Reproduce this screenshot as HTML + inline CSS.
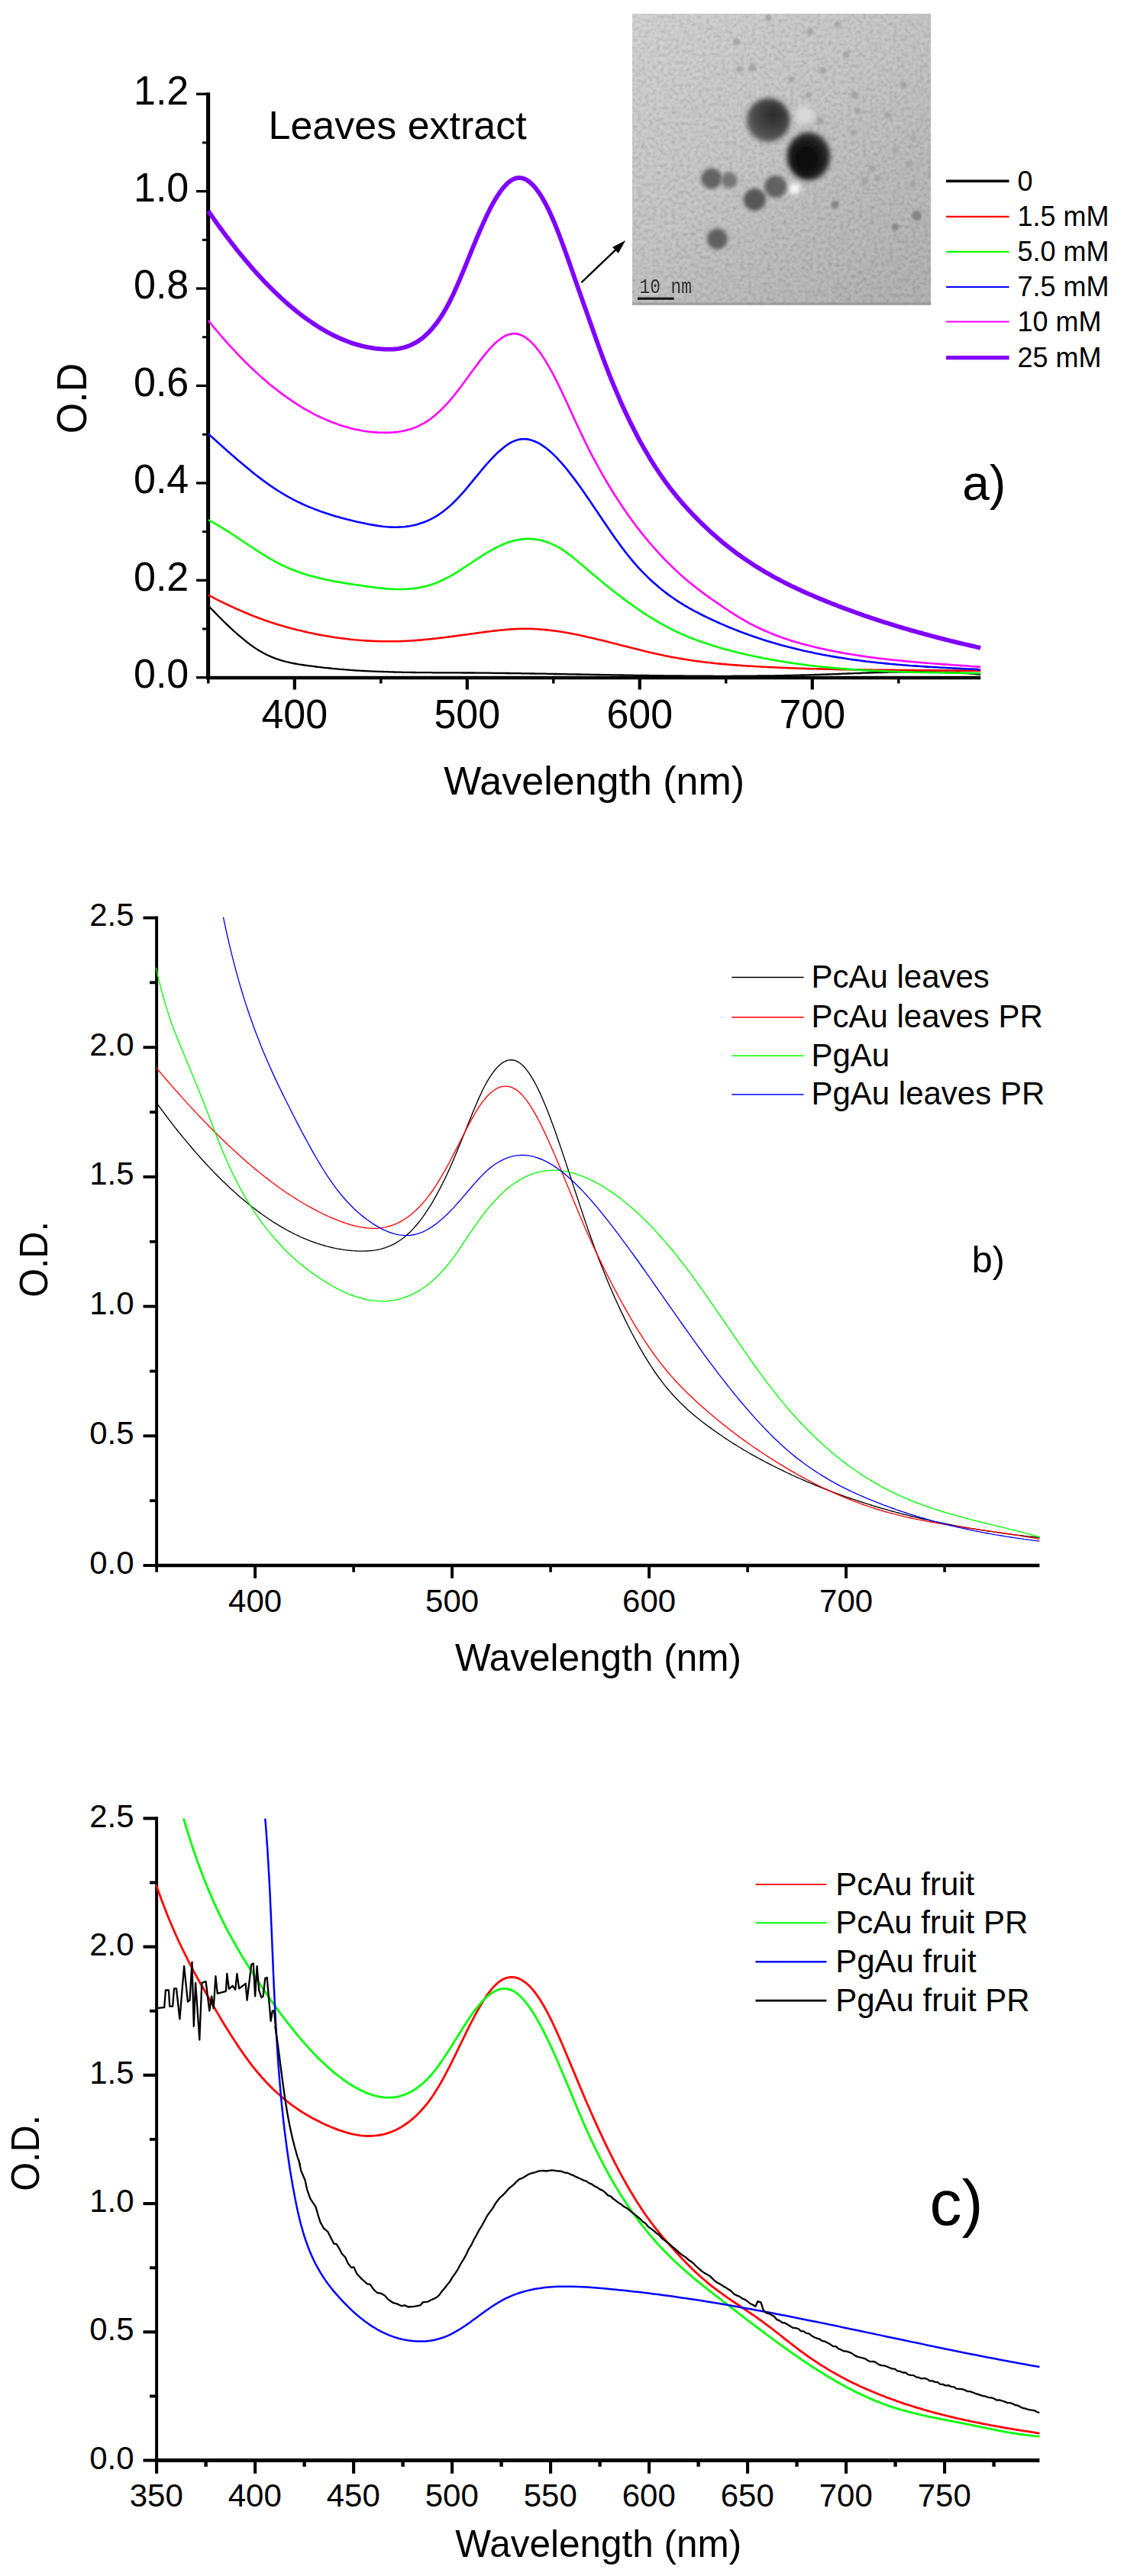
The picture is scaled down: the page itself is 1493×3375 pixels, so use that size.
<!DOCTYPE html>
<html lang="en">
<head>
<meta charset="utf-8">
<title>UV-Vis spectra of gold nanoparticles</title>
<style>
html,body{margin:0;padding:0;background:#fff;}
body{width:1493px;height:3375px;overflow:hidden;}
svg{display:block;position:absolute;left:0;top:0;}
svg text{font-family:"Liberation Sans", Arial, Helvetica, sans-serif;fill:#000;}
</style>
</head>
<body>
<svg width="1493" height="3375" viewBox="0 0 1493 3375">
<line x1="272.6" y1="121.2" x2="272.6" y2="890.2" stroke="#000" stroke-width="5.1"/>
<line x1="270.1" y1="888" x2="1284.2" y2="888" stroke="#000" stroke-width="4.4"/>
<line x1="257" y1="887.7" x2="272.8" y2="887.7" stroke="#000" stroke-width="3.3"/>
<text transform="translate(247.3 901) scale(1 1.04)" font-size="52" text-anchor="end">0.0</text>
<line x1="265" y1="824" x2="272.8" y2="824" stroke="#000" stroke-width="3.0"/>
<line x1="257" y1="760.3" x2="272.8" y2="760.3" stroke="#000" stroke-width="3.3"/>
<text transform="translate(247.3 773.6) scale(1 1.04)" font-size="52" text-anchor="end">0.2</text>
<line x1="265" y1="696.6" x2="272.8" y2="696.6" stroke="#000" stroke-width="3.0"/>
<line x1="257" y1="632.9" x2="272.8" y2="632.9" stroke="#000" stroke-width="3.3"/>
<text transform="translate(247.3 646.2) scale(1 1.04)" font-size="52" text-anchor="end">0.4</text>
<line x1="265" y1="569.2" x2="272.8" y2="569.2" stroke="#000" stroke-width="3.0"/>
<line x1="257" y1="505.4" x2="272.8" y2="505.4" stroke="#000" stroke-width="3.3"/>
<text transform="translate(247.3 518.7) scale(1 1.04)" font-size="52" text-anchor="end">0.6</text>
<line x1="265" y1="441.7" x2="272.8" y2="441.7" stroke="#000" stroke-width="3.0"/>
<line x1="257" y1="378" x2="272.8" y2="378" stroke="#000" stroke-width="3.3"/>
<text transform="translate(247.3 391.3) scale(1 1.04)" font-size="52" text-anchor="end">0.8</text>
<line x1="265" y1="314.3" x2="272.8" y2="314.3" stroke="#000" stroke-width="3.0"/>
<line x1="257" y1="250.6" x2="272.8" y2="250.6" stroke="#000" stroke-width="3.3"/>
<text transform="translate(247.3 263.9) scale(1 1.04)" font-size="52" text-anchor="end">1.0</text>
<line x1="265" y1="186.9" x2="272.8" y2="186.9" stroke="#000" stroke-width="3.0"/>
<line x1="257" y1="123.2" x2="272.8" y2="123.2" stroke="#000" stroke-width="3.3"/>
<text transform="translate(247.3 136.5) scale(1 1.04)" font-size="52" text-anchor="end">1.2</text>
<line x1="272.8" y1="888" x2="272.8" y2="895.5" stroke="#000" stroke-width="3.4"/>
<line x1="385.8" y1="888" x2="385.8" y2="903.5" stroke="#000" stroke-width="4.2"/>
<text transform="translate(385.8 954.4) scale(1 1.045)" font-size="52" text-anchor="middle">400</text>
<line x1="498.8" y1="888" x2="498.8" y2="895.5" stroke="#000" stroke-width="3.4"/>
<line x1="611.8" y1="888" x2="611.8" y2="903.5" stroke="#000" stroke-width="4.2"/>
<text transform="translate(611.8 954.4) scale(1 1.045)" font-size="52" text-anchor="middle">500</text>
<line x1="724.8" y1="888" x2="724.8" y2="895.5" stroke="#000" stroke-width="3.4"/>
<line x1="837.8" y1="888" x2="837.8" y2="903.5" stroke="#000" stroke-width="4.2"/>
<text transform="translate(837.8 954.4) scale(1 1.045)" font-size="52" text-anchor="middle">600</text>
<line x1="950.8" y1="888" x2="950.8" y2="895.5" stroke="#000" stroke-width="3.4"/>
<line x1="1063.8" y1="888" x2="1063.8" y2="903.5" stroke="#000" stroke-width="4.2"/>
<text transform="translate(1063.8 954.4) scale(1 1.045)" font-size="52" text-anchor="middle">700</text>
<line x1="1176.8" y1="888" x2="1176.8" y2="895.5" stroke="#000" stroke-width="3.4"/>
<path d="M272.8 793.6 L275.8 796.7 L278.8 799.8 L281.8 802.9 L284.8 806 L287.8 809 L290.8 812 L293.8 815 L296.8 817.9 L299.8 820.7 L302.8 823.5 L305.8 826.3 L308.8 829 L311.8 831.6 L314.8 834.2 L317.8 836.7 L320.8 839.2 L323.8 841.5 L326.8 843.8 L329.8 846 L332.8 848.1 L335.8 850.1 L338.8 852 L341.8 853.8 L344.8 855.5 L347.8 857.1 L350.8 858.5 L353.8 859.9 L356.8 861.2 L359.8 862.3 L362.8 863.4 L365.8 864.4 L368.8 865.3 L371.8 866.2 L374.8 867 L377.8 867.7 L380.8 868.4 L383.8 869 L386.8 869.5 L389.8 870.1 L392.8 870.6 L395.8 871 L398.8 871.5 L401.9 871.9 L404.9 872.3 L407.9 872.7 L410.9 873.1 L413.9 873.5 L416.9 873.9 L419.9 874.2 L422.9 874.6 L425.9 874.9 L428.9 875.2 L431.9 875.5 L434.9 875.8 L437.9 876.1 L440.9 876.4 L443.9 876.7 L446.9 876.9 L449.9 877.2 L452.9 877.4 L455.9 877.6 L458.9 877.9 L461.9 878.1 L464.9 878.3 L467.9 878.5 L470.9 878.6 L473.9 878.8 L476.9 879 L479.9 879.1 L482.9 879.3 L485.9 879.4 L488.9 879.6 L491.9 879.7 L494.9 879.8 L497.9 879.9 L500.9 880 L503.9 880.1 L506.9 880.2 L509.9 880.3 L512.9 880.4 L515.9 880.5 L518.9 880.6 L521.9 880.6 L524.9 880.7 L527.9 880.8 L530.9 880.8 L533.9 880.9 L536.9 880.9 L539.9 881 L542.9 881 L545.9 881.1 L548.9 881.1 L551.9 881.1 L554.9 881.2 L557.9 881.2 L560.9 881.2 L563.9 881.2 L566.9 881.3 L569.9 881.3 L572.9 881.3 L575.9 881.3 L578.9 881.3 L581.9 881.3 L584.9 881.4 L587.9 881.4 L590.9 881.4 L593.9 881.4 L596.9 881.4 L599.9 881.4 L602.9 881.4 L605.9 881.5 L608.9 881.5 L611.9 881.5 L614.9 881.5 L617.9 881.5 L620.9 881.5 L623.9 881.6 L626.9 881.6 L629.9 881.6 L632.9 881.7 L635.9 881.7 L638.9 881.7 L641.9 881.7 L644.9 881.8 L647.9 881.8 L650.9 881.8 L654 881.9 L657 881.9 L660 881.9 L663 882 L666 882 L669 882.1 L672 882.1 L675 882.1 L678 882.2 L681 882.2 L684 882.3 L687 882.3 L690 882.4 L693 882.4 L696 882.5 L699 882.5 L702 882.6 L705 882.6 L708 882.6 L711 882.7 L714 882.7 L717 882.8 L720 882.8 L723 882.9 L726 883 L729 883 L732 883.1 L735 883.1 L738 883.2 L741 883.2 L744 883.3 L747 883.3 L750 883.4 L753 883.4 L756 883.5 L759 883.5 L762 883.6 L765 883.6 L768 883.7 L771 883.7 L774 883.8 L777 883.9 L780 883.9 L783 884 L786 884 L789 884.1 L792 884.1 L795 884.2 L798 884.2 L801 884.3 L804 884.3 L807 884.4 L810 884.4 L813 884.5 L816 884.5 L819 884.6 L822 884.6 L825 884.7 L828 884.7 L831 884.8 L834 884.8 L837 884.8 L840 884.9 L843 884.9 L846 885 L849 885 L852 885.1 L855 885.1 L858 885.1 L861 885.2 L864 885.2 L867 885.2 L870 885.3 L873 885.3 L876 885.4 L879 885.4 L882 885.4 L885 885.4 L888 885.5 L891 885.5 L894 885.5 L897 885.6 L900 885.6 L903 885.6 L906.1 885.6 L909.1 885.6 L912.1 885.7 L915.1 885.7 L918.1 885.7 L921.1 885.7 L924.1 885.7 L927.1 885.7 L930.1 885.7 L933.1 885.7 L936.1 885.8 L939.1 885.8 L942.1 885.8 L945.1 885.8 L948.1 885.8 L951.1 885.8 L954.1 885.8 L957.1 885.8 L960.1 885.7 L963.1 885.7 L966.1 885.7 L969.1 885.7 L972.1 885.7 L975.1 885.7 L978.1 885.7 L981.1 885.6 L984.1 885.6 L987.1 885.6 L990.1 885.6 L993.1 885.5 L996.1 885.5 L999.1 885.5 L1002.1 885.4 L1005.1 885.4 L1008.1 885.4 L1011.1 885.3 L1014.1 885.3 L1017.1 885.2 L1020.1 885.2 L1023.1 885.1 L1026.1 885.1 L1029.1 885 L1032.1 884.9 L1035.1 884.9 L1038.1 884.8 L1041.1 884.7 L1044.1 884.7 L1047.1 884.6 L1050.1 884.5 L1053.1 884.5 L1056.1 884.4 L1059.1 884.3 L1062.1 884.2 L1065.1 884.1 L1068.1 884 L1071.1 883.9 L1074.1 883.8 L1077.1 883.7 L1080.1 883.6 L1083.1 883.5 L1086.1 883.4 L1089.1 883.3 L1092.1 883.2 L1095.1 883.1 L1098.1 883 L1101.1 882.9 L1104.1 882.7 L1107.1 882.6 L1110.1 882.5 L1113.1 882.4 L1116.1 882.3 L1119.1 882.2 L1122.1 882.1 L1125.1 882 L1128.1 881.8 L1131.1 881.7 L1134.1 881.6 L1137.1 881.5 L1140.1 881.4 L1143.1 881.3 L1146.1 881.2 L1149.1 881.1 L1152.1 881 L1155.1 881 L1158.2 880.9 L1161.2 880.8 L1164.2 880.7 L1167.2 880.7 L1170.2 880.6 L1173.2 880.5 L1176.2 880.5 L1179.2 880.4 L1182.2 880.4 L1185.2 880.3 L1188.2 880.3 L1191.2 880.3 L1194.2 880.2 L1197.2 880.2 L1200.2 880.2 L1203.2 880.2 L1206.2 880.2 L1209.2 880.2 L1212.2 880.3 L1215.2 880.3 L1218.2 880.3 L1221.2 880.4 L1224.2 880.4 L1227.2 880.5 L1230.2 880.6 L1233.2 880.6 L1236.2 880.7 L1239.2 880.8 L1242.2 881 L1245.2 881.1 L1248.2 881.2 L1251.2 881.3 L1254.2 881.5 L1257.2 881.7 L1260.2 881.8 L1263.2 882 L1266.2 882.2 L1269.2 882.4 L1272.2 882.7 L1275.2 882.9 L1278.2 883.2 L1281.2 883.4 L1284.2 883.7" fill="none" stroke="#000000" stroke-width="2.3" stroke-linejoin="round" />
<path d="M272.8 779.6 L275.8 781.2 L278.8 782.7 L281.8 784.3 L284.8 785.8 L287.8 787.3 L290.8 788.8 L293.8 790.3 L296.8 791.7 L299.8 793.1 L302.8 794.5 L305.8 795.9 L308.8 797.3 L311.8 798.6 L314.8 799.9 L317.8 801.2 L320.8 802.5 L323.8 803.8 L326.8 805 L329.8 806.2 L332.8 807.4 L335.8 808.5 L338.8 809.7 L341.8 810.8 L344.8 811.9 L347.8 812.9 L350.8 813.9 L353.8 815 L356.8 815.9 L359.8 816.9 L362.8 817.9 L365.8 818.8 L368.8 819.7 L371.8 820.6 L374.8 821.4 L377.8 822.2 L380.8 823.1 L383.8 823.9 L386.8 824.6 L389.8 825.4 L392.8 826.1 L395.8 826.8 L398.8 827.5 L401.9 828.2 L404.9 828.9 L407.9 829.5 L410.9 830.2 L413.9 830.8 L416.9 831.4 L419.9 831.9 L422.9 832.5 L425.9 833 L428.9 833.5 L431.9 834 L434.9 834.5 L437.9 835 L440.9 835.4 L443.9 835.8 L446.9 836.2 L449.9 836.6 L452.9 837 L455.9 837.3 L458.9 837.7 L461.9 838 L464.9 838.3 L467.9 838.5 L470.9 838.8 L473.9 839 L476.9 839.2 L479.9 839.4 L482.9 839.6 L485.9 839.8 L488.9 839.9 L491.9 840 L494.9 840.1 L497.9 840.2 L500.9 840.3 L503.9 840.3 L506.9 840.3 L509.9 840.3 L512.9 840.3 L515.9 840.3 L518.9 840.2 L521.9 840.2 L524.9 840.1 L527.9 840 L530.9 839.8 L533.9 839.7 L536.9 839.5 L539.9 839.3 L542.9 839.1 L545.9 838.9 L548.9 838.6 L551.9 838.4 L554.9 838.1 L557.9 837.8 L560.9 837.6 L563.9 837.2 L566.9 836.9 L569.9 836.6 L572.9 836.3 L575.9 835.9 L578.9 835.5 L581.9 835.2 L584.9 834.8 L587.9 834.4 L590.9 834 L593.9 833.6 L596.9 833.2 L599.9 832.8 L602.9 832.4 L605.9 832 L608.9 831.6 L611.9 831.2 L614.9 830.8 L617.9 830.4 L620.9 830 L623.9 829.5 L626.9 829.1 L629.9 828.7 L632.9 828.3 L635.9 827.9 L638.9 827.5 L641.9 827.2 L644.9 826.8 L647.9 826.4 L650.9 826.1 L654 825.8 L657 825.5 L660 825.2 L663 824.9 L666 824.7 L669 824.4 L672 824.2 L675 824.1 L678 824 L681 823.8 L684 823.8 L687 823.8 L690 823.8 L693 823.8 L696 823.9 L699 824 L702 824.2 L705 824.3 L708 824.6 L711 824.8 L714 825.1 L717 825.4 L720 825.7 L723 826.1 L726 826.5 L729 826.9 L732 827.3 L735 827.8 L738 828.3 L741 828.8 L744 829.3 L747 829.9 L750 830.4 L753 831 L756 831.6 L759 832.2 L762 832.9 L765 833.5 L768 834.2 L771 834.9 L774 835.5 L777 836.2 L780 836.9 L783 837.7 L786 838.4 L789 839.1 L792 839.9 L795 840.6 L798 841.4 L801 842.1 L804 842.9 L807 843.6 L810 844.4 L813 845.2 L816 845.9 L819 846.7 L822 847.5 L825 848.2 L828 849 L831 849.8 L834 850.5 L837 851.3 L840 852 L843 852.7 L846 853.5 L849 854.2 L852 854.9 L855 855.6 L858 856.3 L861 856.9 L864 857.6 L867 858.2 L870 858.9 L873 859.5 L876 860.1 L879 860.7 L882 861.2 L885 861.8 L888 862.3 L891 862.9 L894 863.4 L897 863.8 L900 864.3 L903 864.8 L906.1 865.2 L909.1 865.7 L912.1 866.1 L915.1 866.5 L918.1 866.9 L921.1 867.3 L924.1 867.6 L927.1 868 L930.1 868.3 L933.1 868.6 L936.1 869 L939.1 869.3 L942.1 869.6 L945.1 869.9 L948.1 870.1 L951.1 870.4 L954.1 870.7 L957.1 870.9 L960.1 871.2 L963.1 871.4 L966.1 871.6 L969.1 871.8 L972.1 872.1 L975.1 872.3 L978.1 872.5 L981.1 872.6 L984.1 872.8 L987.1 873 L990.1 873.2 L993.1 873.3 L996.1 873.5 L999.1 873.7 L1002.1 873.8 L1005.1 874 L1008.1 874.1 L1011.1 874.3 L1014.1 874.4 L1017.1 874.5 L1020.1 874.7 L1023.1 874.8 L1026.1 874.9 L1029.1 875 L1032.1 875.1 L1035.1 875.3 L1038.1 875.4 L1041.1 875.5 L1044.1 875.6 L1047.1 875.7 L1050.1 875.8 L1053.1 875.9 L1056.1 876 L1059.1 876.1 L1062.1 876.2 L1065.1 876.2 L1068.1 876.3 L1071.1 876.4 L1074.1 876.5 L1077.1 876.5 L1080.1 876.6 L1083.1 876.7 L1086.1 876.8 L1089.1 876.8 L1092.1 876.9 L1095.1 876.9 L1098.1 877 L1101.1 877.1 L1104.1 877.1 L1107.1 877.2 L1110.1 877.2 L1113.1 877.3 L1116.1 877.3 L1119.1 877.4 L1122.1 877.4 L1125.1 877.4 L1128.1 877.5 L1131.1 877.5 L1134.1 877.6 L1137.1 877.6 L1140.1 877.6 L1143.1 877.7 L1146.1 877.7 L1149.1 877.7 L1152.1 877.8 L1155.1 877.8 L1158.2 877.8 L1161.2 877.9 L1164.2 877.9 L1167.2 877.9 L1170.2 877.9 L1173.2 878 L1176.2 878 L1179.2 878 L1182.2 878 L1185.2 878 L1188.2 878.1 L1191.2 878.1 L1194.2 878.1 L1197.2 878.1 L1200.2 878.2 L1203.2 878.2 L1206.2 878.2 L1209.2 878.2 L1212.2 878.2 L1215.2 878.3 L1218.2 878.3 L1221.2 878.3 L1224.2 878.3 L1227.2 878.3 L1230.2 878.4 L1233.2 878.4 L1236.2 878.4 L1239.2 878.4 L1242.2 878.5 L1245.2 878.5 L1248.2 878.5 L1251.2 878.5 L1254.2 878.6 L1257.2 878.6 L1260.2 878.6 L1263.2 878.6 L1266.2 878.7 L1269.2 878.7 L1272.2 878.7 L1275.2 878.8 L1278.2 878.8 L1281.2 878.8 L1284.2 878.9" fill="none" stroke="#ff0000" stroke-width="2.6" stroke-linejoin="round" />
<path d="M272.8 681.2 L275.8 682.8 L278.8 684.4 L281.8 686.1 L284.8 687.8 L287.8 689.6 L290.8 691.4 L293.8 693.3 L296.8 695.2 L299.8 697.1 L302.8 699 L305.8 701 L308.8 703 L311.8 705 L314.8 707 L317.8 709 L320.8 711 L323.8 713 L326.8 715 L329.8 717 L332.8 718.9 L335.8 720.9 L338.8 722.8 L341.8 724.7 L344.8 726.6 L347.8 728.5 L350.8 730.3 L353.8 732 L356.8 733.7 L359.8 735.4 L362.8 737 L365.8 738.6 L368.8 740.1 L371.8 741.5 L374.8 742.9 L377.8 744.2 L380.8 745.5 L383.8 746.7 L386.8 747.8 L389.8 749 L392.8 750 L395.8 751 L398.8 752 L401.9 753 L404.9 753.9 L407.9 754.7 L410.9 755.5 L413.9 756.3 L416.9 757.1 L419.9 757.8 L422.9 758.5 L425.9 759.2 L428.9 759.8 L431.9 760.4 L434.9 761 L437.9 761.6 L440.9 762.1 L443.9 762.6 L446.9 763.2 L449.9 763.7 L452.9 764.1 L455.9 764.6 L458.9 765.1 L461.9 765.5 L464.9 766 L467.9 766.4 L470.9 766.9 L473.9 767.3 L476.9 767.8 L479.9 768.2 L482.9 768.6 L485.9 769 L488.9 769.4 L491.9 769.8 L494.9 770.2 L497.9 770.5 L500.9 770.8 L503.9 771.1 L506.9 771.4 L509.9 771.6 L512.9 771.7 L515.9 771.9 L518.9 772 L521.9 772 L524.9 772 L527.9 772 L530.9 771.8 L533.9 771.7 L536.9 771.4 L539.9 771.2 L542.9 770.8 L545.9 770.4 L548.9 769.9 L551.9 769.3 L554.9 768.7 L557.9 767.9 L560.9 767.1 L563.9 766.2 L566.9 765.3 L569.9 764.2 L572.9 763 L575.9 761.8 L578.9 760.4 L581.9 758.9 L584.9 757.4 L587.9 755.8 L590.9 754.1 L593.9 752.4 L596.9 750.6 L599.9 748.7 L602.9 746.8 L605.9 744.9 L608.9 742.9 L611.9 741 L614.9 739 L617.9 737 L620.9 735 L623.9 733 L626.9 731.1 L629.9 729.1 L632.9 727.2 L635.9 725.4 L638.9 723.5 L641.9 721.8 L644.9 720.1 L647.9 718.4 L650.9 716.9 L654 715.4 L657 714 L660 712.7 L663 711.5 L666 710.4 L669 709.4 L672 708.6 L675 707.9 L678 707.3 L681 706.8 L684 706.4 L687 706.1 L690 706 L693 706 L696 706.1 L699 706.4 L702 706.7 L705 707.2 L708 707.8 L711 708.6 L714 709.5 L717 710.5 L720 711.6 L723 712.9 L726 714.3 L729 715.8 L732 717.4 L735 719.2 L738 721.2 L741 723.2 L744 725.4 L747 727.6 L750 730 L753 732.4 L756 734.9 L759 737.4 L762 739.9 L765 742.5 L768 745.1 L771 747.7 L774 750.2 L777 752.8 L780 755.3 L783 757.8 L786 760.3 L789 762.8 L792 765.2 L795 767.7 L798 770.1 L801 772.5 L804 774.8 L807 777.2 L810 779.5 L813 781.8 L816 784.1 L819 786.3 L822 788.5 L825 790.7 L828 792.8 L831 794.9 L834 797 L837 799.1 L840 801.1 L843 803.1 L846 805.1 L849 807 L852 808.9 L855 810.7 L858 812.6 L861 814.3 L864 816.1 L867 817.8 L870 819.4 L873 821.1 L876 822.6 L879 824.2 L882 825.7 L885 827.1 L888 828.5 L891 829.9 L894 831.3 L897 832.6 L900 833.8 L903 835.1 L906.1 836.3 L909.1 837.4 L912.1 838.6 L915.1 839.7 L918.1 840.8 L921.1 841.8 L924.1 842.8 L927.1 843.8 L930.1 844.8 L933.1 845.8 L936.1 846.7 L939.1 847.6 L942.1 848.5 L945.1 849.3 L948.1 850.2 L951.1 851 L954.1 851.8 L957.1 852.6 L960.1 853.4 L963.1 854.1 L966.1 854.9 L969.1 855.6 L972.1 856.3 L975.1 857 L978.1 857.7 L981.1 858.4 L984.1 859 L987.1 859.7 L990.1 860.3 L993.1 860.9 L996.1 861.6 L999.1 862.2 L1002.1 862.7 L1005.1 863.3 L1008.1 863.9 L1011.1 864.4 L1014.1 865 L1017.1 865.5 L1020.1 866 L1023.1 866.5 L1026.1 867 L1029.1 867.5 L1032.1 867.9 L1035.1 868.4 L1038.1 868.8 L1041.1 869.3 L1044.1 869.7 L1047.1 870.1 L1050.1 870.5 L1053.1 870.9 L1056.1 871.3 L1059.1 871.7 L1062.1 872 L1065.1 872.4 L1068.1 872.7 L1071.1 873.1 L1074.1 873.4 L1077.1 873.7 L1080.1 874 L1083.1 874.3 L1086.1 874.6 L1089.1 874.9 L1092.1 875.2 L1095.1 875.4 L1098.1 875.7 L1101.1 875.9 L1104.1 876.2 L1107.1 876.4 L1110.1 876.7 L1113.1 876.9 L1116.1 877.1 L1119.1 877.3 L1122.1 877.5 L1125.1 877.7 L1128.1 877.9 L1131.1 878.1 L1134.1 878.2 L1137.1 878.4 L1140.1 878.6 L1143.1 878.7 L1146.1 878.9 L1149.1 879 L1152.1 879.2 L1155.1 879.3 L1158.2 879.4 L1161.2 879.5 L1164.2 879.7 L1167.2 879.8 L1170.2 879.9 L1173.2 880 L1176.2 880.1 L1179.2 880.2 L1182.2 880.3 L1185.2 880.4 L1188.2 880.5 L1191.2 880.5 L1194.2 880.6 L1197.2 880.7 L1200.2 880.8 L1203.2 880.8 L1206.2 880.9 L1209.2 881 L1212.2 881 L1215.2 881.1 L1218.2 881.1 L1221.2 881.2 L1224.2 881.3 L1227.2 881.3 L1230.2 881.4 L1233.2 881.4 L1236.2 881.4 L1239.2 881.5 L1242.2 881.5 L1245.2 881.6 L1248.2 881.6 L1251.2 881.7 L1254.2 881.7 L1257.2 881.7 L1260.2 881.8 L1263.2 881.8 L1266.2 881.8 L1269.2 881.9 L1272.2 881.9 L1275.2 882 L1278.2 882 L1281.2 882 L1284.2 882.1" fill="none" stroke="#00ff00" stroke-width="2.6" stroke-linejoin="round" />
<path d="M272.8 568.4 L275.8 571.1 L278.8 573.8 L281.8 576.5 L284.8 579.2 L287.8 581.9 L290.8 584.5 L293.8 587.2 L296.8 589.9 L299.8 592.5 L302.8 595.2 L305.8 597.8 L308.8 600.4 L311.8 603 L314.8 605.6 L317.8 608.1 L320.8 610.6 L323.8 613.1 L326.8 615.6 L329.8 618 L332.8 620.4 L335.8 622.8 L338.8 625.1 L341.8 627.4 L344.8 629.6 L347.8 631.8 L350.8 634 L353.8 636.1 L356.8 638.1 L359.8 640.2 L362.8 642.1 L365.8 644 L368.8 645.9 L371.8 647.7 L374.8 649.4 L377.8 651.1 L380.8 652.7 L383.8 654.3 L386.8 655.9 L389.8 657.4 L392.8 658.8 L395.8 660.2 L398.8 661.6 L401.9 662.9 L404.9 664.2 L407.9 665.4 L410.9 666.6 L413.9 667.8 L416.9 668.9 L419.9 670 L422.9 671.1 L425.9 672.1 L428.9 673.1 L431.9 674.1 L434.9 675 L437.9 675.9 L440.9 676.8 L443.9 677.6 L446.9 678.5 L449.9 679.3 L452.9 680 L455.9 680.8 L458.9 681.5 L461.9 682.3 L464.9 683 L467.9 683.7 L470.9 684.3 L473.9 685 L476.9 685.6 L479.9 686.3 L482.9 686.8 L485.9 687.4 L488.9 687.9 L491.9 688.4 L494.9 688.9 L497.9 689.3 L500.9 689.7 L503.9 690 L506.9 690.3 L509.9 690.5 L512.9 690.6 L515.9 690.7 L518.9 690.7 L521.9 690.6 L524.9 690.5 L527.9 690.3 L530.9 690 L533.9 689.6 L536.9 689.2 L539.9 688.6 L542.9 687.9 L545.9 687.2 L548.9 686.3 L551.9 685.3 L554.9 684.3 L557.9 683.1 L560.9 681.8 L563.9 680.3 L566.9 678.8 L569.9 677.1 L572.9 675.3 L575.9 673.3 L578.9 671.2 L581.9 669 L584.9 666.6 L587.9 664.1 L590.9 661.4 L593.9 658.5 L596.9 655.5 L599.9 652.4 L602.9 649.1 L605.9 645.8 L608.9 642.3 L611.9 638.8 L614.9 635.2 L617.9 631.6 L620.9 627.9 L623.9 624.3 L626.9 620.6 L629.9 617 L632.9 613.4 L635.9 609.9 L638.9 606.5 L641.9 603.1 L644.9 599.9 L647.9 596.8 L650.9 593.8 L654 591 L657 588.4 L660 585.9 L663 583.7 L666 581.7 L669 579.9 L672 578.4 L675 577.2 L678 576.2 L681 575.6 L684 575.3 L687 575.2 L690 575.4 L693 575.9 L696 576.7 L699 577.7 L702 579 L705 580.4 L708 582.2 L711 584.1 L714 586.2 L717 588.5 L720 591.1 L723 593.8 L726 596.6 L729 599.6 L732 602.8 L735 606.1 L738 609.6 L741 613.2 L744 616.9 L747 620.7 L750 624.6 L753 628.6 L756 632.7 L759 636.8 L762 641.1 L765 645.3 L768 649.7 L771 654.1 L774 658.5 L777 662.9 L780 667.4 L783 671.8 L786 676.3 L789 680.8 L792 685.2 L795 689.6 L798 694 L801 698.4 L804 702.7 L807 706.9 L810 711.1 L813 715.2 L816 719.2 L819 723.2 L822 727 L825 730.7 L828 734.4 L831 737.9 L834 741.3 L837 744.6 L840 747.8 L843 750.9 L846 753.9 L849 756.9 L852 759.7 L855 762.5 L858 765.1 L861 767.7 L864 770.3 L867 772.7 L870 775.1 L873 777.4 L876 779.6 L879 781.7 L882 783.8 L885 785.9 L888 787.8 L891 789.8 L894 791.6 L897 793.5 L900 795.2 L903 797 L906.1 798.6 L909.1 800.3 L912.1 801.9 L915.1 803.4 L918.1 805 L921.1 806.5 L924.1 808 L927.1 809.4 L930.1 810.8 L933.1 812.2 L936.1 813.6 L939.1 815 L942.1 816.3 L945.1 817.6 L948.1 818.9 L951.1 820.2 L954.1 821.5 L957.1 822.7 L960.1 823.9 L963.1 825.1 L966.1 826.3 L969.1 827.5 L972.1 828.6 L975.1 829.7 L978.1 830.8 L981.1 831.9 L984.1 833 L987.1 834 L990.1 835 L993.1 836 L996.1 837 L999.1 838 L1002.1 838.9 L1005.1 839.9 L1008.1 840.8 L1011.1 841.7 L1014.1 842.6 L1017.1 843.5 L1020.1 844.3 L1023.1 845.2 L1026.1 846 L1029.1 846.8 L1032.1 847.6 L1035.1 848.3 L1038.1 849.1 L1041.1 849.8 L1044.1 850.6 L1047.1 851.3 L1050.1 852 L1053.1 852.7 L1056.1 853.3 L1059.1 854 L1062.1 854.6 L1065.1 855.3 L1068.1 855.9 L1071.1 856.5 L1074.1 857.1 L1077.1 857.7 L1080.1 858.2 L1083.1 858.8 L1086.1 859.3 L1089.1 859.9 L1092.1 860.4 L1095.1 860.9 L1098.1 861.4 L1101.1 861.8 L1104.1 862.3 L1107.1 862.8 L1110.1 863.2 L1113.1 863.7 L1116.1 864.1 L1119.1 864.5 L1122.1 864.9 L1125.1 865.3 L1128.1 865.7 L1131.1 866.1 L1134.1 866.5 L1137.1 866.8 L1140.1 867.2 L1143.1 867.5 L1146.1 867.8 L1149.1 868.2 L1152.1 868.5 L1155.1 868.8 L1158.2 869.1 L1161.2 869.4 L1164.2 869.7 L1167.2 870 L1170.2 870.2 L1173.2 870.5 L1176.2 870.8 L1179.2 871 L1182.2 871.3 L1185.2 871.5 L1188.2 871.7 L1191.2 872 L1194.2 872.2 L1197.2 872.4 L1200.2 872.6 L1203.2 872.8 L1206.2 873 L1209.2 873.2 L1212.2 873.4 L1215.2 873.6 L1218.2 873.8 L1221.2 874 L1224.2 874.1 L1227.2 874.3 L1230.2 874.5 L1233.2 874.7 L1236.2 874.8 L1239.2 875 L1242.2 875.1 L1245.2 875.3 L1248.2 875.5 L1251.2 875.6 L1254.2 875.8 L1257.2 875.9 L1260.2 876.1 L1263.2 876.2 L1266.2 876.4 L1269.2 876.5 L1272.2 876.6 L1275.2 876.8 L1278.2 876.9 L1281.2 877.1 L1284.2 877.2" fill="none" stroke="#0000ff" stroke-width="2.6" stroke-linejoin="round" />
<path d="M272.8 419.9 L275.8 423.6 L278.8 427.3 L281.8 430.9 L284.8 434.5 L287.8 438 L290.8 441.5 L293.8 444.9 L296.8 448.3 L299.8 451.6 L302.8 454.9 L305.8 458.2 L308.8 461.4 L311.8 464.6 L314.8 467.7 L317.8 470.7 L320.8 473.8 L323.8 476.7 L326.8 479.7 L329.8 482.5 L332.8 485.4 L335.8 488.1 L338.8 490.9 L341.8 493.6 L344.8 496.2 L347.8 498.8 L350.8 501.4 L353.8 503.9 L356.8 506.3 L359.8 508.7 L362.8 511.1 L365.8 513.4 L368.8 515.6 L371.8 517.9 L374.8 520 L377.8 522.1 L380.8 524.2 L383.8 526.2 L386.8 528.2 L389.8 530.1 L392.8 532 L395.8 533.8 L398.8 535.6 L401.9 537.4 L404.9 539 L407.9 540.7 L410.9 542.3 L413.9 543.8 L416.9 545.3 L419.9 546.7 L422.9 548.1 L425.9 549.4 L428.9 550.7 L431.9 552 L434.9 553.2 L437.9 554.3 L440.9 555.4 L443.9 556.5 L446.9 557.5 L449.9 558.4 L452.9 559.3 L455.9 560.1 L458.9 560.9 L461.9 561.7 L464.9 562.4 L467.9 563 L470.9 563.6 L473.9 564.2 L476.9 564.7 L479.9 565.1 L482.9 565.5 L485.9 565.9 L488.9 566.2 L491.9 566.4 L494.9 566.6 L497.9 566.7 L500.9 566.8 L503.9 566.9 L506.9 566.9 L509.9 566.8 L512.9 566.6 L515.9 566.4 L518.9 566.1 L521.9 565.8 L524.9 565.3 L527.9 564.8 L530.9 564.1 L533.9 563.3 L536.9 562.5 L539.9 561.5 L542.9 560.4 L545.9 559.1 L548.9 557.8 L551.9 556.2 L554.9 554.6 L557.9 552.8 L560.9 550.8 L563.9 548.7 L566.9 546.4 L569.9 543.9 L572.9 541.3 L575.9 538.6 L578.9 535.7 L581.9 532.7 L584.9 529.5 L587.9 526.1 L590.9 522.6 L593.9 519 L596.9 515.3 L599.9 511.4 L602.9 507.5 L605.9 503.5 L608.9 499.4 L611.9 495.3 L614.9 491.2 L617.9 487.1 L620.9 483 L623.9 478.9 L626.9 474.9 L629.9 470.9 L632.9 467.1 L635.9 463.4 L638.9 459.8 L641.9 456.4 L644.9 453.2 L647.9 450.3 L650.9 447.5 L654 445.1 L657 442.9 L660 441 L663 439.5 L666 438.3 L669 437.5 L672 437.1 L675 437.1 L678 437.6 L681 438.5 L684 439.7 L687 441.4 L690 443.4 L693 445.8 L696 448.6 L699 451.7 L702 455.2 L705 459 L708 463 L711 467.4 L714 472.1 L717 477.1 L720 482.3 L723 487.7 L726 493.4 L729 499.4 L732 505.5 L735 511.7 L738 518 L741 524.5 L744 531 L747 537.6 L750 544.1 L753 550.7 L756 557.1 L759 563.5 L762 569.9 L765 576.1 L768 582.2 L771 588.2 L774 594.1 L777 599.8 L780 605.4 L783 611 L786 616.4 L789 621.7 L792 626.9 L795 632 L798 637 L801 641.9 L804 646.7 L807 651.5 L810 656.1 L813 660.7 L816 665.2 L819 669.5 L822 673.9 L825 678.1 L828 682.2 L831 686.3 L834 690.2 L837 694.1 L840 698 L843 701.7 L846 705.4 L849 709 L852 712.5 L855 716 L858 719.4 L861 722.7 L864 726 L867 729.2 L870 732.3 L873 735.4 L876 738.4 L879 741.4 L882 744.3 L885 747.1 L888 749.9 L891 752.6 L894 755.3 L897 757.9 L900 760.5 L903 763 L906.1 765.4 L909.1 767.9 L912.1 770.2 L915.1 772.6 L918.1 774.8 L921.1 777.1 L924.1 779.3 L927.1 781.5 L930.1 783.6 L933.1 785.7 L936.1 787.8 L939.1 789.9 L942.1 791.9 L945.1 794 L948.1 796 L951.1 798 L954.1 800 L957.1 802 L960.1 803.9 L963.1 805.8 L966.1 807.7 L969.1 809.5 L972.1 811.2 L975.1 813 L978.1 814.6 L981.1 816.3 L984.1 817.9 L987.1 819.4 L990.1 820.9 L993.1 822.4 L996.1 823.8 L999.1 825.2 L1002.1 826.5 L1005.1 827.8 L1008.1 829.1 L1011.1 830.3 L1014.1 831.5 L1017.1 832.7 L1020.1 833.8 L1023.1 834.9 L1026.1 835.9 L1029.1 837 L1032.1 838 L1035.1 839 L1038.1 839.9 L1041.1 840.8 L1044.1 841.7 L1047.1 842.6 L1050.1 843.4 L1053.1 844.2 L1056.1 845 L1059.1 845.8 L1062.1 846.6 L1065.1 847.3 L1068.1 848 L1071.1 848.7 L1074.1 849.4 L1077.1 850.1 L1080.1 850.7 L1083.1 851.4 L1086.1 852 L1089.1 852.6 L1092.1 853.2 L1095.1 853.8 L1098.1 854.4 L1101.1 854.9 L1104.1 855.5 L1107.1 856 L1110.1 856.5 L1113.1 857 L1116.1 857.5 L1119.1 858 L1122.1 858.5 L1125.1 858.9 L1128.1 859.4 L1131.1 859.8 L1134.1 860.3 L1137.1 860.7 L1140.1 861.1 L1143.1 861.5 L1146.1 861.9 L1149.1 862.3 L1152.1 862.6 L1155.1 863 L1158.2 863.3 L1161.2 863.7 L1164.2 864 L1167.2 864.4 L1170.2 864.7 L1173.2 865 L1176.2 865.3 L1179.2 865.6 L1182.2 865.9 L1185.2 866.2 L1188.2 866.5 L1191.2 866.8 L1194.2 867 L1197.2 867.3 L1200.2 867.6 L1203.2 867.8 L1206.2 868.1 L1209.2 868.3 L1212.2 868.6 L1215.2 868.8 L1218.2 869 L1221.2 869.3 L1224.2 869.5 L1227.2 869.7 L1230.2 869.9 L1233.2 870.2 L1236.2 870.4 L1239.2 870.6 L1242.2 870.8 L1245.2 871 L1248.2 871.3 L1251.2 871.5 L1254.2 871.7 L1257.2 871.9 L1260.2 872.1 L1263.2 872.3 L1266.2 872.5 L1269.2 872.7 L1272.2 873 L1275.2 873.2 L1278.2 873.4 L1281.2 873.6 L1284.2 873.8" fill="none" stroke="#ff00ff" stroke-width="2.6" stroke-linejoin="round" />
<path d="M272.8 276.5 L275.8 280.8 L278.8 285.1 L281.8 289.4 L284.8 293.6 L287.8 297.7 L290.8 301.8 L293.8 305.9 L296.8 309.9 L299.8 313.8 L302.8 317.7 L305.8 321.6 L308.8 325.4 L311.8 329.2 L314.8 332.9 L317.8 336.5 L320.8 340.1 L323.8 343.7 L326.8 347.2 L329.8 350.7 L332.8 354.1 L335.8 357.5 L338.8 360.8 L341.8 364 L344.8 367.2 L347.8 370.4 L350.8 373.5 L353.8 376.5 L356.8 379.5 L359.8 382.5 L362.8 385.4 L365.8 388.2 L368.8 391 L371.8 393.7 L374.8 396.4 L377.8 399 L380.8 401.6 L383.8 404.1 L386.8 406.6 L389.8 409 L392.8 411.3 L395.8 413.6 L398.8 415.9 L401.9 418 L404.9 420.2 L407.9 422.2 L410.9 424.3 L413.9 426.2 L416.9 428.1 L419.9 430 L422.9 431.8 L425.9 433.5 L428.9 435.2 L431.9 436.8 L434.9 438.3 L437.9 439.8 L440.9 441.3 L443.9 442.7 L446.9 444 L449.9 445.2 L452.9 446.4 L455.9 447.6 L458.9 448.7 L461.9 449.7 L464.9 450.7 L467.9 451.6 L470.9 452.4 L473.9 453.2 L476.9 453.9 L479.9 454.6 L482.9 455.2 L485.9 455.7 L488.9 456.2 L491.9 456.6 L494.9 456.9 L497.9 457.2 L500.9 457.4 L503.9 457.6 L506.9 457.7 L509.9 457.7 L512.9 457.6 L515.9 457.5 L518.9 457.2 L521.9 456.8 L524.9 456.2 L527.9 455.5 L530.9 454.7 L533.9 453.7 L536.9 452.6 L539.9 451.2 L542.9 449.7 L545.9 448 L548.9 446 L551.9 443.9 L554.9 441.5 L557.9 438.9 L560.9 436 L563.9 432.8 L566.9 429.4 L569.9 425.7 L572.9 421.7 L575.9 417.5 L578.9 412.9 L581.9 407.9 L584.9 402.7 L587.9 397.1 L590.9 391.1 L593.9 384.9 L596.9 378.3 L599.9 371.4 L602.9 364.4 L605.9 357.2 L608.9 349.9 L611.9 342.5 L614.9 335.1 L617.9 327.7 L620.9 320.4 L623.9 313.1 L626.9 306 L629.9 299.1 L632.9 292.3 L635.9 285.8 L638.9 279.5 L641.9 273.4 L644.9 267.7 L647.9 262.4 L650.9 257.4 L654 252.8 L657 248.6 L660 244.9 L663 241.7 L666 238.9 L669 236.6 L672 234.9 L675 233.7 L678 233.1 L681 233 L684 233.4 L687 234.4 L690 236 L693 238 L696 240.6 L699 243.6 L702 247.2 L705 251.2 L708 255.7 L711 260.6 L714 266 L717 271.8 L720 278 L723 284.7 L726 291.7 L729 299.1 L732 306.8 L735 314.7 L738 322.9 L741 331.3 L744 339.8 L747 348.3 L750 357 L753 365.6 L756 374.3 L759 382.8 L762 391.3 L765 399.8 L768 408.3 L771 416.8 L774 425.3 L777 433.8 L780 442.4 L783 450.8 L786 459.1 L789 467.3 L792 475.3 L795 483.1 L798 490.8 L801 498.3 L804 505.6 L807 512.7 L810 519.7 L813 526.6 L816 533.2 L819 539.8 L822 546.1 L825 552.4 L828 558.4 L831 564.3 L834 570.1 L837 575.8 L840 581.3 L843 586.6 L846 591.8 L849 596.9 L852 601.9 L855 606.7 L858 611.5 L861 616 L864 620.5 L867 624.9 L870 629.1 L873 633.2 L876 637.3 L879 641.2 L882 645 L885 648.8 L888 652.4 L891 656 L894 659.5 L897 662.9 L900 666.2 L903 669.5 L906.1 672.7 L909.1 675.9 L912.1 678.9 L915.1 682 L918.1 684.9 L921.1 687.9 L924.1 690.7 L927.1 693.5 L930.1 696.3 L933.1 699 L936.1 701.7 L939.1 704.3 L942.1 706.9 L945.1 709.4 L948.1 711.9 L951.1 714.3 L954.1 716.7 L957.1 719 L960.1 721.3 L963.1 723.6 L966.1 725.8 L969.1 727.9 L972.1 730.1 L975.1 732.2 L978.1 734.2 L981.1 736.2 L984.1 738.2 L987.1 740.2 L990.1 742.1 L993.1 743.9 L996.1 745.8 L999.1 747.6 L1002.1 749.4 L1005.1 751.1 L1008.1 752.8 L1011.1 754.5 L1014.1 756.2 L1017.1 757.8 L1020.1 759.4 L1023.1 761 L1026.1 762.5 L1029.1 764.1 L1032.1 765.6 L1035.1 767 L1038.1 768.5 L1041.1 769.9 L1044.1 771.3 L1047.1 772.7 L1050.1 774.1 L1053.1 775.5 L1056.1 776.8 L1059.1 778.1 L1062.1 779.4 L1065.1 780.7 L1068.1 782 L1071.1 783.3 L1074.1 784.5 L1077.1 785.7 L1080.1 787 L1083.1 788.2 L1086.1 789.4 L1089.1 790.6 L1092.1 791.8 L1095.1 792.9 L1098.1 794.1 L1101.1 795.2 L1104.1 796.4 L1107.1 797.5 L1110.1 798.6 L1113.1 799.7 L1116.1 800.8 L1119.1 801.9 L1122.1 803 L1125.1 804.1 L1128.1 805.1 L1131.1 806.2 L1134.1 807.2 L1137.1 808.2 L1140.1 809.3 L1143.1 810.3 L1146.1 811.3 L1149.1 812.3 L1152.1 813.2 L1155.1 814.2 L1158.2 815.2 L1161.2 816.1 L1164.2 817.1 L1167.2 818 L1170.2 818.9 L1173.2 819.9 L1176.2 820.8 L1179.2 821.7 L1182.2 822.6 L1185.2 823.5 L1188.2 824.3 L1191.2 825.2 L1194.2 826.1 L1197.2 826.9 L1200.2 827.8 L1203.2 828.6 L1206.2 829.4 L1209.2 830.3 L1212.2 831.1 L1215.2 831.9 L1218.2 832.7 L1221.2 833.5 L1224.2 834.3 L1227.2 835.1 L1230.2 835.9 L1233.2 836.6 L1236.2 837.4 L1239.2 838.2 L1242.2 838.9 L1245.2 839.7 L1248.2 840.4 L1251.2 841.1 L1254.2 841.9 L1257.2 842.6 L1260.2 843.3 L1263.2 844 L1266.2 844.7 L1269.2 845.4 L1272.2 846.1 L1275.2 846.8 L1278.2 847.5 L1281.2 848.2 L1284.2 848.9" fill="none" stroke="#8000ff" stroke-width="5.8" stroke-linejoin="round" />
<text x="778.2" y="1040.8" font-size="52" text-anchor="middle" >Wavelength (nm)</text>
<text transform="translate(113.3 522) rotate(-90) scale(1 1.05)" font-size="52" text-anchor="middle">O.D</text>
<text x="351.5" y="182.2" font-size="52" text-anchor="start" >Leaves extract</text>
<text x="1260.3" y="655" font-size="64" text-anchor="start" >a)</text>
<line x1="761.4" y1="370.2" x2="807" y2="326.7" stroke="#000" stroke-width="2.4"/>
<polygon points="819.3,315 809.8,331.8 802.1,323.7" fill="#000"/>
<line x1="1239.1" y1="237.3" x2="1321.6" y2="237.3" stroke="#000" stroke-width="3.4"/>
<text x="1332.5" y="249.6" font-size="36" text-anchor="start" >0</text>
<line x1="1239.1" y1="283.8" x2="1321.6" y2="283.8" stroke="#ff0000" stroke-width="2.2"/>
<text x="1332.5" y="296.1" font-size="36" text-anchor="start" >1.5 mM</text>
<line x1="1239.1" y1="329.8" x2="1321.6" y2="329.8" stroke="#00ff00" stroke-width="2.2"/>
<text x="1332.5" y="342.1" font-size="36" text-anchor="start" >5.0 mM</text>
<line x1="1239.1" y1="376" x2="1321.6" y2="376" stroke="#0000ff" stroke-width="2.2"/>
<text x="1332.5" y="388.3" font-size="36" text-anchor="start" >7.5 mM</text>
<line x1="1239.1" y1="421.5" x2="1321.6" y2="421.5" stroke="#ff00ff" stroke-width="2.2"/>
<text x="1332.5" y="433.8" font-size="36" text-anchor="start" >10 mM</text>
<line x1="1239.1" y1="468.6" x2="1321.6" y2="468.6" stroke="#8000ff" stroke-width="5.4"/>
<text x="1332.5" y="480.9" font-size="36" text-anchor="start" >25 mM</text>
<defs><filter id="noise" x="0" y="0" width="100%" height="100%"><feTurbulence type="fractalNoise" baseFrequency="0.2" numOctaves="3" seed="11" result="n"/><feColorMatrix in="n" type="matrix" values="1.5 0 0 0 -0.03  1.5 0 0 0 -0.03  1.5 0 0 0 -0.03  0 0 0 0 1"/></filter><filter id="b1" x="-30%" y="-30%" width="160%" height="160%"><feGaussianBlur stdDeviation="2.6"/></filter><filter id="b2" x="-30%" y="-30%" width="160%" height="160%"><feGaussianBlur stdDeviation="3"/></filter><filter id="b4" x="-5%" y="-20%" width="110%" height="140%"><feGaussianBlur stdDeviation="0.5"/></filter><filter id="b3" x="-60%" y="-60%" width="220%" height="220%"><feGaussianBlur stdDeviation="1.5"/></filter><linearGradient id="temg" x1="0" y1="0" x2="0.8" y2="1"><stop offset="0" stop-color="#c9c9c9"/><stop offset="0.5" stop-color="#b9b9b9"/><stop offset="1" stop-color="#a3a3a3"/></linearGradient><radialGradient id="pg1" cx="0.62" cy="0.38" r="0.62"><stop offset="0" stop-color="#2a2a2a"/><stop offset="0.5" stop-color="#404040"/><stop offset="1" stop-color="#5c5c5c"/></radialGradient><radialGradient id="pg2" cx="0.45" cy="0.55" r="0.55"><stop offset="0" stop-color="#080808"/><stop offset="0.6" stop-color="#141414"/><stop offset="1" stop-color="#3a3a3a"/></radialGradient><clipPath id="temclip"><rect x="828" y="18" width="391.3" height="381.8"/></clipPath></defs>
<g clip-path="url(#temclip)">
<rect x="828" y="18" width="391.3" height="381.8" fill="url(#temg)"/>
<rect x="828" y="18" width="391.3" height="381.8" opacity="0.2" filter="url(#noise)"/>
<circle cx="1040.9" cy="247.1" r="7.5" fill="#fbfbfb" filter="url(#b2)"/>
<circle cx="1053.3" cy="150.9" r="12" fill="#d9d9d9" filter="url(#b2)"/>
<circle cx="964.7" cy="54.7" r="4.5" fill="#a4a4a4" filter="url(#b3)"/>
<circle cx="985.4" cy="88.6" r="5" fill="#a4a4a4" filter="url(#b3)"/>
<circle cx="1060.8" cy="41.5" r="4.5" fill="#a4a4a4" filter="url(#b3)"/>
<circle cx="1119.3" cy="124.5" r="5" fill="#a4a4a4" filter="url(#b3)"/>
<circle cx="1132.5" cy="236.9" r="5" fill="#a4a4a4" filter="url(#b3)"/>
<circle cx="1183.4" cy="111.3" r="4.5" fill="#a4a4a4" filter="url(#b3)"/>
<circle cx="1162.7" cy="150.9" r="4.5" fill="#a4a4a4" filter="url(#b3)"/>
<circle cx="1092.9" cy="267.8" r="5" fill="#a4a4a4" filter="url(#b3)"/>
<circle cx="1074.1" cy="158.4" r="5" fill="#a4a4a4" filter="url(#b3)"/>
<circle cx="1172.1" cy="298" r="4.5" fill="#a4a4a4" filter="url(#b3)"/>
<circle cx="1077.8" cy="92.4" r="4.5" fill="#a4a4a4" filter="url(#b3)"/>
<circle cx="1108" cy="71.7" r="4" fill="#a4a4a4" filter="url(#b3)"/>
<circle cx="1006.2" cy="23.4" r="4" fill="#a4a4a4" filter="url(#b3)"/>
<circle cx="1191" cy="215" r="4.5" fill="#a4a4a4" filter="url(#b3)"/>
<circle cx="1096.7" cy="32.1" r="4" fill="#a4a4a4" filter="url(#b3)"/>
<circle cx="1036.3" cy="103.7" r="4" fill="#a4a4a4" filter="url(#b3)"/>
<circle cx="1149.5" cy="233.9" r="4.5" fill="#a4a4a4" filter="url(#b3)"/>
<circle cx="1123.1" cy="145.2" r="4" fill="#a4a4a4" filter="url(#b3)"/>
<circle cx="968.4" cy="90.5" r="4" fill="#a4a4a4" filter="url(#b3)"/>
<circle cx="1142" cy="220.7" r="4" fill="#a4a4a4" filter="url(#b3)"/>
<circle cx="1194.8" cy="241.4" r="4" fill="#a4a4a4" filter="url(#b3)"/>
<circle cx="1059" cy="124.5" r="4" fill="#a4a4a4" filter="url(#b3)"/>
<circle cx="1117.4" cy="173.5" r="4" fill="#a4a4a4" filter="url(#b3)"/>
<circle cx="1172.1" cy="196.2" r="3.5" fill="#a4a4a4" filter="url(#b3)"/>
<circle cx="1196.6" cy="181.1" r="3.5" fill="#a4a4a4" filter="url(#b3)"/>
<circle cx="1200.4" cy="282.5" r="6.5" fill="#858585" filter="url(#b3)"/>
<circle cx="1093.7" cy="268.4" r="4.8" fill="#858585" filter="url(#b3)"/>
<circle cx="1172.3" cy="297.2" r="4" fill="#858585" filter="url(#b3)"/>
<circle cx="931.8" cy="233.9" r="13.5" fill="#646464" filter="url(#b1)"/>
<circle cx="955.2" cy="236.1" r="10.5" fill="#747474" filter="url(#b1)"/>
<circle cx="1015.6" cy="244.4" r="14.5" fill="#626262" filter="url(#b1)"/>
<circle cx="988.4" cy="261.4" r="14.5" fill="#585858" filter="url(#b1)"/>
<circle cx="939.4" cy="313.1" r="13.5" fill="#606060" filter="url(#b1)"/>
<circle cx="1006.2" cy="157.3" r="28.5" fill="url(#pg1)" filter="url(#b2)"/>
<ellipse cx="1059" cy="204.8" rx="28.5" ry="31.5" fill="url(#pg2)" filter="url(#b2)"/>
<rect x="828" y="396.3" width="391.3" height="4" fill="#909090" opacity="0.6"/>
<rect x="835" y="389.6" width="47.6" height="3.2" fill="#161616"/>
<rect x="837" y="384.4" width="25" height="1.4" fill="#dcdcdc"/>
<text x="837.5" y="383.6" font-size="27" style='font-family:"Liberation Mono",monospace;fill:#303030' textLength="68.5" lengthAdjust="spacingAndGlyphs" filter="url(#b4)">10 nm</text>
</g>
<line x1="205.1" y1="1200.5" x2="205.1" y2="2053.2" stroke="#000" stroke-width="4.0"/>
<line x1="203.1" y1="2051" x2="1361.4" y2="2051" stroke="#000" stroke-width="4.3"/>
<line x1="187.5" y1="2051" x2="205.1" y2="2051" stroke="#000" stroke-width="3.9"/>
<text transform="translate(175.6 2061.5) scale(1 1.03)" font-size="42" text-anchor="end">0.0</text>
<line x1="196" y1="1966.2" x2="205.1" y2="1966.2" stroke="#000" stroke-width="3.8"/>
<line x1="187.5" y1="1881.3" x2="205.1" y2="1881.3" stroke="#000" stroke-width="3.9"/>
<text transform="translate(175.6 1891.8) scale(1 1.03)" font-size="42" text-anchor="end">0.5</text>
<line x1="196" y1="1796.5" x2="205.1" y2="1796.5" stroke="#000" stroke-width="3.8"/>
<line x1="187.5" y1="1711.6" x2="205.1" y2="1711.6" stroke="#000" stroke-width="3.9"/>
<text transform="translate(175.6 1722.1) scale(1 1.03)" font-size="42" text-anchor="end">1.0</text>
<line x1="196" y1="1626.8" x2="205.1" y2="1626.8" stroke="#000" stroke-width="3.8"/>
<line x1="187.5" y1="1541.9" x2="205.1" y2="1541.9" stroke="#000" stroke-width="3.9"/>
<text transform="translate(175.6 1552.4) scale(1 1.03)" font-size="42" text-anchor="end">1.5</text>
<line x1="196" y1="1457.1" x2="205.1" y2="1457.1" stroke="#000" stroke-width="3.8"/>
<line x1="187.5" y1="1372.2" x2="205.1" y2="1372.2" stroke="#000" stroke-width="3.9"/>
<text transform="translate(175.6 1382.7) scale(1 1.03)" font-size="42" text-anchor="end">2.0</text>
<line x1="196" y1="1287.3" x2="205.1" y2="1287.3" stroke="#000" stroke-width="3.8"/>
<line x1="187.5" y1="1202.5" x2="205.1" y2="1202.5" stroke="#000" stroke-width="3.9"/>
<text transform="translate(175.6 1213) scale(1 1.03)" font-size="42" text-anchor="end">2.5</text>
<line x1="205.1" y1="2051" x2="205.1" y2="2059.8" stroke="#000" stroke-width="3.6"/>
<line x1="334.1" y1="2051" x2="334.1" y2="2067.8" stroke="#000" stroke-width="3.9"/>
<text x="334.1" y="2111.8" font-size="42" text-anchor="middle" >400</text>
<line x1="463.1" y1="2051" x2="463.1" y2="2059.8" stroke="#000" stroke-width="3.6"/>
<line x1="592.1" y1="2051" x2="592.1" y2="2067.8" stroke="#000" stroke-width="3.9"/>
<text x="592.1" y="2111.8" font-size="42" text-anchor="middle" >500</text>
<line x1="721.1" y1="2051" x2="721.1" y2="2059.8" stroke="#000" stroke-width="3.6"/>
<line x1="850.1" y1="2051" x2="850.1" y2="2067.8" stroke="#000" stroke-width="3.9"/>
<text x="850.1" y="2111.8" font-size="42" text-anchor="middle" >600</text>
<line x1="979.1" y1="2051" x2="979.1" y2="2059.8" stroke="#000" stroke-width="3.6"/>
<line x1="1108.1" y1="2051" x2="1108.1" y2="2067.8" stroke="#000" stroke-width="3.9"/>
<text x="1108.1" y="2111.8" font-size="42" text-anchor="middle" >700</text>
<line x1="1237.1" y1="2051" x2="1237.1" y2="2059.8" stroke="#000" stroke-width="3.6"/>
<path d="M206.9 1447.5 L209.4 1450.9 L211.9 1454.3 L214.4 1457.7 L216.9 1461 L219.4 1464.3 L221.9 1467.6 L224.4 1470.9 L226.9 1474.1 L229.4 1477.3 L231.9 1480.5 L234.4 1483.6 L237 1486.7 L239.5 1489.8 L242 1492.9 L244.5 1495.9 L247 1498.9 L249.5 1501.8 L252 1504.8 L254.5 1507.7 L257 1510.6 L259.5 1513.4 L262 1516.2 L264.5 1519 L267 1521.8 L269.5 1524.5 L272 1527.2 L274.5 1529.9 L277 1532.5 L279.5 1535.1 L282 1537.7 L284.5 1540.2 L287 1542.7 L289.5 1545.2 L292 1547.7 L294.6 1550.1 L297.1 1552.5 L299.6 1554.9 L302.1 1557.2 L304.6 1559.5 L307.1 1561.8 L309.6 1564 L312.1 1566.2 L314.6 1568.4 L317.1 1570.5 L319.6 1572.6 L322.1 1574.7 L324.6 1576.8 L327.1 1578.8 L329.6 1580.8 L332.1 1582.7 L334.6 1584.6 L337.1 1586.5 L339.6 1588.4 L342.1 1590.2 L344.6 1592 L347.1 1593.8 L349.6 1595.5 L352.2 1597.2 L354.7 1598.9 L357.2 1600.5 L359.7 1602.1 L362.2 1603.6 L364.7 1605.2 L367.2 1606.7 L369.7 1608.2 L372.2 1609.6 L374.7 1611 L377.2 1612.4 L379.7 1613.7 L382.2 1615 L384.7 1616.3 L387.2 1617.5 L389.7 1618.7 L392.2 1619.9 L394.7 1621 L397.2 1622.1 L399.7 1623.2 L402.2 1624.2 L404.7 1625.2 L407.2 1626.2 L409.8 1627.1 L412.3 1628 L414.8 1628.9 L417.3 1629.7 L419.8 1630.5 L422.3 1631.2 L424.8 1632 L427.3 1632.7 L429.8 1633.3 L432.3 1633.9 L434.8 1634.5 L437.3 1635.1 L439.8 1635.6 L442.3 1636.1 L444.8 1636.5 L447.3 1636.9 L449.8 1637.3 L452.3 1637.7 L454.8 1638 L457.3 1638.2 L459.8 1638.5 L462.3 1638.7 L464.8 1638.8 L467.4 1639 L469.9 1639.1 L472.4 1639.1 L474.9 1639.1 L477.4 1639.1 L479.9 1639 L482.4 1638.9 L484.9 1638.7 L487.4 1638.5 L489.9 1638.2 L492.4 1637.8 L494.9 1637.3 L497.4 1636.8 L499.9 1636.2 L502.4 1635.4 L504.9 1634.6 L507.4 1633.7 L509.9 1632.7 L512.4 1631.6 L514.9 1630.4 L517.4 1629.1 L519.9 1627.6 L522.4 1626 L525 1624.3 L527.5 1622.5 L530 1620.5 L532.5 1618.3 L535 1616.1 L537.5 1613.7 L540 1611.1 L542.5 1608.4 L545 1605.5 L547.5 1602.5 L550 1599.4 L552.5 1596.1 L555 1592.6 L557.5 1589 L560 1585.2 L562.5 1581.3 L565 1577.3 L567.5 1573.1 L570 1568.7 L572.5 1564.2 L575 1559.5 L577.5 1554.6 L580 1549.7 L582.6 1544.5 L585.1 1539.2 L587.6 1533.7 L590.1 1528.2 L592.6 1522.4 L595.1 1516.6 L597.6 1510.7 L600.1 1504.6 L602.6 1498.6 L605.1 1492.4 L607.6 1486.2 L610.1 1480 L612.6 1473.8 L615.1 1467.6 L617.6 1461.4 L620.1 1455.3 L622.6 1449.4 L625.1 1443.5 L627.6 1437.9 L630.1 1432.5 L632.6 1427.2 L635.1 1422.3 L637.6 1417.7 L640.2 1413.4 L642.7 1409.4 L645.2 1405.8 L647.7 1402.5 L650.2 1399.5 L652.7 1396.9 L655.2 1394.6 L657.7 1392.7 L660.2 1391.2 L662.7 1390 L665.2 1389.2 L667.7 1388.7 L670.2 1388.7 L672.7 1389 L675.2 1389.7 L677.7 1390.8 L680.2 1392.3 L682.7 1394.2 L685.2 1396.5 L687.7 1399.2 L690.2 1402.3 L692.7 1405.8 L695.2 1409.6 L697.8 1413.8 L700.3 1418.2 L702.8 1423 L705.3 1428.1 L707.8 1433.4 L710.3 1439.1 L712.8 1444.9 L715.3 1451 L717.8 1457.3 L720.3 1463.8 L722.8 1470.5 L725.3 1477.3 L727.8 1484.3 L730.3 1491.5 L732.8 1498.7 L735.3 1506.1 L737.8 1513.6 L740.3 1521.1 L742.8 1528.7 L745.3 1536.3 L747.8 1544 L750.3 1551.6 L752.8 1559.3 L755.4 1567 L757.9 1574.6 L760.4 1582.1 L762.9 1589.6 L765.4 1597.1 L767.9 1604.4 L770.4 1611.6 L772.9 1618.7 L775.4 1625.6 L777.9 1632.5 L780.4 1639.2 L782.9 1645.9 L785.4 1652.4 L787.9 1658.8 L790.4 1665.1 L792.9 1671.3 L795.4 1677.4 L797.9 1683.4 L800.4 1689.2 L802.9 1695 L805.4 1700.7 L807.9 1706.3 L810.4 1711.8 L812.9 1717.1 L815.5 1722.4 L818 1727.6 L820.5 1732.7 L823 1737.7 L825.5 1742.7 L828 1747.5 L830.5 1752.2 L833 1756.8 L835.5 1761.4 L838 1765.8 L840.5 1770.2 L843 1774.4 L845.5 1778.6 L848 1782.7 L850.5 1786.6 L853 1790.5 L855.5 1794.3 L858 1798 L860.5 1801.5 L863 1805 L865.5 1808.4 L868 1811.7 L870.5 1814.9 L873.1 1818 L875.6 1821 L878.1 1823.9 L880.6 1826.8 L883.1 1829.5 L885.6 1832.2 L888.1 1834.8 L890.6 1837.4 L893.1 1839.8 L895.6 1842.2 L898.1 1844.6 L900.6 1846.9 L903.1 1849.1 L905.6 1851.3 L908.1 1853.4 L910.6 1855.5 L913.1 1857.5 L915.6 1859.5 L918.1 1861.5 L920.6 1863.5 L923.1 1865.4 L925.6 1867.2 L928.1 1869.1 L930.7 1870.9 L933.2 1872.8 L935.7 1874.6 L938.2 1876.3 L940.7 1878.1 L943.2 1879.8 L945.7 1881.5 L948.2 1883.2 L950.7 1884.9 L953.2 1886.5 L955.7 1888.2 L958.2 1889.8 L960.7 1891.4 L963.2 1892.9 L965.7 1894.5 L968.2 1896 L970.7 1897.5 L973.2 1899.1 L975.7 1900.5 L978.2 1902 L980.7 1903.5 L983.2 1904.9 L985.7 1906.3 L988.3 1907.7 L990.8 1909.1 L993.3 1910.5 L995.8 1911.8 L998.3 1913.2 L1000.8 1914.5 L1003.3 1915.8 L1005.8 1917.1 L1008.3 1918.4 L1010.8 1919.7 L1013.3 1921 L1015.8 1922.2 L1018.3 1923.5 L1020.8 1924.7 L1023.3 1925.9 L1025.8 1927.1 L1028.3 1928.3 L1030.8 1929.5 L1033.3 1930.7 L1035.8 1931.8 L1038.3 1933 L1040.8 1934.1 L1043.3 1935.3 L1045.9 1936.4 L1048.4 1937.5 L1050.9 1938.6 L1053.4 1939.7 L1055.9 1940.8 L1058.4 1941.8 L1060.9 1942.9 L1063.4 1943.9 L1065.9 1945 L1068.4 1946 L1070.9 1947 L1073.4 1948.1 L1075.9 1949.1 L1078.4 1950.1 L1080.9 1951 L1083.4 1952 L1085.9 1953 L1088.4 1953.9 L1090.9 1954.9 L1093.4 1955.8 L1095.9 1956.8 L1098.4 1957.7 L1100.9 1958.6 L1103.5 1959.5 L1106 1960.4 L1108.5 1961.3 L1111 1962.1 L1113.5 1963 L1116 1963.9 L1118.5 1964.7 L1121 1965.6 L1123.5 1966.4 L1126 1967.2 L1128.5 1968 L1131 1968.8 L1133.5 1969.6 L1136 1970.4 L1138.5 1971.2 L1141 1972 L1143.5 1972.8 L1146 1973.5 L1148.5 1974.3 L1151 1975 L1153.5 1975.8 L1156 1976.5 L1158.5 1977.2 L1161.1 1977.9 L1163.6 1978.6 L1166.1 1979.3 L1168.6 1980 L1171.1 1980.7 L1173.6 1981.4 L1176.1 1982 L1178.6 1982.7 L1181.1 1983.3 L1183.6 1984 L1186.1 1984.6 L1188.6 1985.2 L1191.1 1985.9 L1193.6 1986.5 L1196.1 1987.1 L1198.6 1987.7 L1201.1 1988.3 L1203.6 1988.9 L1206.1 1989.5 L1208.6 1990 L1211.1 1990.6 L1213.6 1991.2 L1216.1 1991.7 L1218.7 1992.3 L1221.2 1992.8 L1223.7 1993.4 L1226.2 1993.9 L1228.7 1994.4 L1231.2 1994.9 L1233.7 1995.4 L1236.2 1995.9 L1238.7 1996.4 L1241.2 1996.9 L1243.7 1997.4 L1246.2 1997.9 L1248.7 1998.4 L1251.2 1998.8 L1253.7 1999.3 L1256.2 1999.8 L1258.7 2000.2 L1261.2 2000.7 L1263.7 2001.1 L1266.2 2001.5 L1268.7 2002 L1271.2 2002.4 L1273.7 2002.8 L1276.3 2003.2 L1278.8 2003.6 L1281.3 2004 L1283.8 2004.4 L1286.3 2004.8 L1288.8 2005.2 L1291.3 2005.6 L1293.8 2006 L1296.3 2006.3 L1298.8 2006.7 L1301.3 2007.1 L1303.8 2007.4 L1306.3 2007.8 L1308.8 2008.1 L1311.3 2008.5 L1313.8 2008.8 L1316.3 2009.2 L1318.8 2009.5 L1321.3 2009.8 L1323.8 2010.1 L1326.3 2010.5 L1328.8 2010.8 L1331.3 2011.1 L1333.9 2011.4 L1336.4 2011.7 L1338.9 2012 L1341.4 2012.3 L1343.9 2012.6 L1346.4 2012.9 L1348.9 2013.1 L1351.4 2013.4 L1353.9 2013.7 L1356.4 2014 L1358.9 2014.2 L1361.4 2014.5" fill="none" stroke="#000000" stroke-width="1.35" stroke-linejoin="round" />
<path d="M204.3 1398.6 L206.8 1401.5 L209.3 1404.5 L211.8 1407.4 L214.3 1410.4 L216.8 1413.3 L219.3 1416.2 L221.8 1419.1 L224.3 1421.9 L226.8 1424.8 L229.3 1427.6 L231.9 1430.5 L234.4 1433.3 L236.9 1436.1 L239.4 1438.9 L241.9 1441.6 L244.4 1444.4 L246.9 1447.1 L249.4 1449.9 L251.9 1452.6 L254.4 1455.3 L256.9 1457.9 L259.4 1460.6 L261.9 1463.2 L264.4 1465.9 L266.9 1468.5 L269.4 1471.1 L271.9 1473.6 L274.4 1476.2 L276.9 1478.7 L279.4 1481.3 L281.9 1483.8 L284.4 1486.2 L287 1488.7 L289.5 1491.2 L292 1493.6 L294.5 1496 L297 1498.4 L299.5 1500.8 L302 1503.1 L304.5 1505.5 L307 1507.8 L309.5 1510.1 L312 1512.3 L314.5 1514.6 L317 1516.8 L319.5 1519 L322 1521.2 L324.5 1523.4 L327 1525.6 L329.5 1527.7 L332 1529.8 L334.5 1531.9 L337 1533.9 L339.5 1536 L342.1 1538 L344.6 1540 L347.1 1542 L349.6 1543.9 L352.1 1545.9 L354.6 1547.8 L357.1 1549.7 L359.6 1551.5 L362.1 1553.4 L364.6 1555.2 L367.1 1557 L369.6 1558.7 L372.1 1560.5 L374.6 1562.2 L377.1 1563.9 L379.6 1565.5 L382.1 1567.2 L384.6 1568.8 L387.1 1570.4 L389.6 1572 L392.1 1573.5 L394.6 1575 L397.2 1576.5 L399.7 1578 L402.2 1579.4 L404.7 1580.8 L407.2 1582.2 L409.7 1583.6 L412.2 1584.9 L414.7 1586.2 L417.2 1587.5 L419.7 1588.7 L422.2 1590 L424.7 1591.2 L427.2 1592.3 L429.7 1593.5 L432.2 1594.6 L434.7 1595.7 L437.2 1596.7 L439.7 1597.7 L442.2 1598.7 L444.7 1599.7 L447.2 1600.6 L449.7 1601.5 L452.2 1602.4 L454.8 1603.2 L457.3 1604 L459.8 1604.8 L462.3 1605.5 L464.8 1606.1 L467.3 1606.7 L469.8 1607.3 L472.3 1607.7 L474.8 1608.2 L477.3 1608.5 L479.8 1608.8 L482.3 1609.1 L484.8 1609.2 L487.3 1609.3 L489.8 1609.4 L492.3 1609.3 L494.8 1609.2 L497.3 1608.9 L499.8 1608.6 L502.3 1608.2 L504.8 1607.8 L507.4 1607.2 L509.9 1606.5 L512.4 1605.7 L514.9 1604.9 L517.4 1603.9 L519.9 1602.8 L522.4 1601.6 L524.9 1600.3 L527.4 1598.9 L529.9 1597.3 L532.4 1595.7 L534.9 1593.9 L537.4 1592 L539.9 1589.9 L542.4 1587.8 L544.9 1585.5 L547.4 1583 L549.9 1580.5 L552.4 1577.8 L554.9 1574.9 L557.4 1571.9 L559.9 1568.7 L562.5 1565.4 L565 1562 L567.5 1558.4 L570 1554.6 L572.5 1550.7 L575 1546.6 L577.5 1542.5 L580 1538.2 L582.5 1533.8 L585 1529.3 L587.5 1524.7 L590 1520 L592.5 1515.2 L595 1510.4 L597.5 1505.6 L600 1500.7 L602.5 1495.7 L605 1490.8 L607.5 1485.8 L610 1480.9 L612.5 1476.1 L615 1471.3 L617.6 1466.7 L620.1 1462.2 L622.6 1457.9 L625.1 1453.8 L627.6 1449.9 L630.1 1446.2 L632.6 1442.8 L635.1 1439.7 L637.6 1436.8 L640.1 1434.2 L642.6 1431.8 L645.1 1429.8 L647.6 1428 L650.1 1426.4 L652.6 1425.2 L655.1 1424.2 L657.6 1423.6 L660.1 1423.2 L662.6 1423.1 L665.1 1423.3 L667.6 1423.8 L670.1 1424.6 L672.7 1425.8 L675.2 1427.2 L677.7 1429 L680.2 1431 L682.7 1433.4 L685.2 1436.1 L687.7 1439.1 L690.2 1442.4 L692.7 1446 L695.2 1449.8 L697.7 1453.8 L700.2 1458.1 L702.7 1462.6 L705.2 1467.3 L707.7 1472.1 L710.2 1477.2 L712.7 1482.4 L715.2 1487.7 L717.7 1493.2 L720.2 1498.8 L722.7 1504.5 L725.2 1510.3 L727.8 1516.2 L730.3 1522.2 L732.8 1528.2 L735.3 1534.2 L737.8 1540.2 L740.3 1546.3 L742.8 1552.4 L745.3 1558.5 L747.8 1564.6 L750.3 1570.7 L752.8 1576.8 L755.3 1582.8 L757.8 1588.8 L760.3 1594.8 L762.8 1600.7 L765.3 1606.5 L767.8 1612.2 L770.3 1617.9 L772.8 1623.5 L775.3 1629 L777.8 1634.4 L780.3 1639.8 L782.9 1645.1 L785.4 1650.3 L787.9 1655.4 L790.4 1660.5 L792.9 1665.5 L795.4 1670.5 L797.9 1675.4 L800.4 1680.3 L802.9 1685.1 L805.4 1689.8 L807.9 1694.5 L810.4 1699.2 L812.9 1703.8 L815.4 1708.3 L817.9 1712.8 L820.4 1717.2 L822.9 1721.6 L825.4 1726 L827.9 1730.2 L830.4 1734.4 L832.9 1738.6 L835.4 1742.7 L838 1746.7 L840.5 1750.6 L843 1754.5 L845.5 1758.4 L848 1762.1 L850.5 1765.8 L853 1769.4 L855.5 1773 L858 1776.4 L860.5 1779.8 L863 1783.1 L865.5 1786.4 L868 1789.5 L870.5 1792.7 L873 1795.7 L875.5 1798.7 L878 1801.6 L880.5 1804.4 L883 1807.2 L885.5 1810 L888 1812.7 L890.5 1815.3 L893.1 1817.9 L895.6 1820.5 L898.1 1823 L900.6 1825.4 L903.1 1827.8 L905.6 1830.2 L908.1 1832.6 L910.6 1834.9 L913.1 1837.2 L915.6 1839.5 L918.1 1841.7 L920.6 1843.9 L923.1 1846.1 L925.6 1848.3 L928.1 1850.5 L930.6 1852.6 L933.1 1854.7 L935.6 1856.8 L938.1 1858.9 L940.6 1861 L943.1 1863 L945.6 1865 L948.2 1867.1 L950.7 1869 L953.2 1871 L955.7 1873 L958.2 1874.9 L960.7 1876.8 L963.2 1878.7 L965.7 1880.6 L968.2 1882.4 L970.7 1884.3 L973.2 1886.1 L975.7 1887.9 L978.2 1889.7 L980.7 1891.5 L983.2 1893.3 L985.7 1895 L988.2 1896.7 L990.7 1898.4 L993.2 1900.1 L995.7 1901.8 L998.2 1903.5 L1000.7 1905.2 L1003.2 1906.8 L1005.8 1908.4 L1008.3 1910 L1010.8 1911.6 L1013.3 1913.2 L1015.8 1914.8 L1018.3 1916.3 L1020.8 1917.9 L1023.3 1919.4 L1025.8 1920.9 L1028.3 1922.4 L1030.8 1923.9 L1033.3 1925.4 L1035.8 1926.9 L1038.3 1928.3 L1040.8 1929.7 L1043.3 1931.2 L1045.8 1932.6 L1048.3 1933.9 L1050.8 1935.3 L1053.3 1936.7 L1055.8 1938 L1058.4 1939.4 L1060.9 1940.7 L1063.4 1942 L1065.9 1943.3 L1068.4 1944.5 L1070.9 1945.8 L1073.4 1947 L1075.9 1948.3 L1078.4 1949.5 L1080.9 1950.7 L1083.4 1951.9 L1085.9 1953 L1088.4 1954.2 L1090.9 1955.3 L1093.4 1956.5 L1095.9 1957.6 L1098.4 1958.7 L1100.9 1959.7 L1103.4 1960.8 L1105.9 1961.8 L1108.4 1962.9 L1110.9 1963.9 L1113.5 1964.9 L1116 1965.9 L1118.5 1966.9 L1121 1967.8 L1123.5 1968.7 L1126 1969.7 L1128.5 1970.6 L1131 1971.5 L1133.5 1972.3 L1136 1973.2 L1138.5 1974.1 L1141 1974.9 L1143.5 1975.7 L1146 1976.5 L1148.5 1977.3 L1151 1978 L1153.5 1978.8 L1156 1979.5 L1158.5 1980.3 L1161 1981 L1163.5 1981.7 L1166 1982.3 L1168.6 1983 L1171.1 1983.7 L1173.6 1984.3 L1176.1 1984.9 L1178.6 1985.6 L1181.1 1986.2 L1183.6 1986.8 L1186.1 1987.3 L1188.6 1987.9 L1191.1 1988.5 L1193.6 1989 L1196.1 1989.6 L1198.6 1990.1 L1201.1 1990.6 L1203.6 1991.1 L1206.1 1991.6 L1208.6 1992.1 L1211.1 1992.6 L1213.6 1993.1 L1216.1 1993.6 L1218.6 1994 L1221.1 1994.5 L1223.7 1994.9 L1226.2 1995.4 L1228.7 1995.8 L1231.2 1996.2 L1233.7 1996.7 L1236.2 1997.1 L1238.7 1997.5 L1241.2 1997.9 L1243.7 1998.3 L1246.2 1998.7 L1248.7 1999.1 L1251.2 1999.5 L1253.7 1999.9 L1256.2 2000.2 L1258.7 2000.6 L1261.2 2001 L1263.7 2001.4 L1266.2 2001.7 L1268.7 2002.1 L1271.2 2002.5 L1273.7 2002.8 L1276.2 2003.2 L1278.8 2003.5 L1281.3 2003.9 L1283.8 2004.3 L1286.3 2004.6 L1288.8 2005 L1291.3 2005.3 L1293.8 2005.7 L1296.3 2006.1 L1298.8 2006.4 L1301.3 2006.8 L1303.8 2007.1 L1306.3 2007.5 L1308.8 2007.9 L1311.3 2008.2 L1313.8 2008.6 L1316.3 2009 L1318.8 2009.4 L1321.3 2009.8 L1323.8 2010.1 L1326.3 2010.5 L1328.8 2010.9 L1331.3 2011.3 L1333.9 2011.7 L1336.4 2012.1 L1338.9 2012.6 L1341.4 2013 L1343.9 2013.4 L1346.4 2013.8 L1348.9 2014.3 L1351.4 2014.7 L1353.9 2015.2 L1356.4 2015.6 L1358.9 2016.1 L1361.4 2016.6" fill="none" stroke="#ff0000" stroke-width="1.35" stroke-linejoin="round" />
<path d="M204.3 1267.9 L206.8 1278.9 L209.3 1289.1 L211.8 1298.8 L214.3 1307.8 L216.8 1316.4 L219.3 1324.4 L221.8 1332.1 L224.3 1339.3 L226.8 1346.3 L229.3 1352.9 L231.9 1359.3 L234.4 1365.6 L236.9 1371.7 L239.4 1377.7 L241.9 1383.7 L244.4 1389.7 L246.9 1395.7 L249.4 1401.8 L251.9 1407.8 L254.4 1413.9 L256.9 1420 L259.4 1426.1 L261.9 1432.3 L264.4 1438.6 L266.9 1444.9 L269.4 1451.3 L271.9 1457.8 L274.4 1464.3 L276.9 1470.9 L279.4 1477.4 L281.9 1483.9 L284.4 1490.4 L287 1496.8 L289.5 1503 L292 1509.1 L294.5 1515 L297 1520.8 L299.5 1526.4 L302 1531.8 L304.5 1537 L307 1542.2 L309.5 1547.1 L312 1552 L314.5 1556.6 L317 1561.2 L319.5 1565.6 L322 1569.9 L324.5 1574.1 L327 1578.2 L329.5 1582.1 L332 1586 L334.5 1589.8 L337 1593.4 L339.5 1597 L342.1 1600.5 L344.6 1603.9 L347.1 1607.2 L349.6 1610.4 L352.1 1613.6 L354.6 1616.7 L357.1 1619.7 L359.6 1622.6 L362.1 1625.5 L364.6 1628.3 L367.1 1631 L369.6 1633.7 L372.1 1636.2 L374.6 1638.8 L377.1 1641.2 L379.6 1643.6 L382.1 1646 L384.6 1648.3 L387.1 1650.5 L389.6 1652.7 L392.1 1654.8 L394.6 1656.9 L397.2 1658.9 L399.7 1660.9 L402.2 1662.8 L404.7 1664.7 L407.2 1666.6 L409.7 1668.4 L412.2 1670.2 L414.7 1671.9 L417.2 1673.6 L419.7 1675.3 L422.2 1676.9 L424.7 1678.5 L427.2 1680.1 L429.7 1681.6 L432.2 1683.1 L434.7 1684.5 L437.2 1685.9 L439.7 1687.3 L442.2 1688.6 L444.7 1689.9 L447.2 1691.1 L449.7 1692.3 L452.2 1693.4 L454.8 1694.5 L457.3 1695.6 L459.8 1696.5 L462.3 1697.5 L464.8 1698.4 L467.3 1699.2 L469.8 1700 L472.3 1700.7 L474.8 1701.4 L477.3 1702 L479.8 1702.6 L482.3 1703.1 L484.8 1703.5 L487.3 1703.9 L489.8 1704.2 L492.3 1704.4 L494.8 1704.6 L497.3 1704.7 L499.8 1704.8 L502.3 1704.8 L504.8 1704.7 L507.4 1704.5 L509.9 1704.3 L512.4 1704 L514.9 1703.7 L517.4 1703.2 L519.9 1702.7 L522.4 1702.1 L524.9 1701.4 L527.4 1700.7 L529.9 1699.9 L532.4 1699 L534.9 1698 L537.4 1696.9 L539.9 1695.8 L542.4 1694.5 L544.9 1693.2 L547.4 1691.8 L549.9 1690.3 L552.4 1688.7 L554.9 1687 L557.4 1685.2 L559.9 1683.3 L562.5 1681.4 L565 1679.3 L567.5 1677.1 L570 1674.8 L572.5 1672.4 L575 1669.9 L577.5 1667.3 L580 1664.6 L582.5 1661.8 L585 1658.8 L587.5 1655.8 L590 1652.6 L592.5 1649.3 L595 1645.9 L597.5 1642.4 L600 1638.8 L602.5 1635.2 L605 1631.4 L607.5 1627.7 L610 1623.9 L612.5 1620.1 L615 1616.4 L617.6 1612.7 L620.1 1609 L622.6 1605.4 L625.1 1601.9 L627.6 1598.4 L630.1 1595 L632.6 1591.7 L635.1 1588.5 L637.6 1585.4 L640.1 1582.3 L642.6 1579.4 L645.1 1576.5 L647.6 1573.7 L650.1 1571 L652.6 1568.4 L655.1 1565.9 L657.6 1563.4 L660.1 1561.1 L662.6 1558.9 L665.1 1556.8 L667.6 1554.7 L670.1 1552.8 L672.7 1551 L675.2 1549.3 L677.7 1547.6 L680.2 1546.1 L682.7 1544.7 L685.2 1543.3 L687.7 1542.1 L690.2 1540.9 L692.7 1539.8 L695.2 1538.8 L697.7 1537.9 L700.2 1537.1 L702.7 1536.4 L705.2 1535.7 L707.7 1535.2 L710.2 1534.7 L712.7 1534.3 L715.2 1533.9 L717.7 1533.7 L720.2 1533.5 L722.7 1533.4 L725.2 1533.4 L727.8 1533.4 L730.3 1533.5 L732.8 1533.7 L735.3 1534 L737.8 1534.3 L740.3 1534.7 L742.8 1535.2 L745.3 1535.7 L747.8 1536.3 L750.3 1536.9 L752.8 1537.7 L755.3 1538.4 L757.8 1539.3 L760.3 1540.1 L762.8 1541.1 L765.3 1542.1 L767.8 1543.2 L770.3 1544.3 L772.8 1545.4 L775.3 1546.6 L777.8 1547.9 L780.3 1549.2 L782.9 1550.6 L785.4 1552 L787.9 1553.4 L790.4 1554.9 L792.9 1556.5 L795.4 1558.1 L797.9 1559.7 L800.4 1561.4 L802.9 1563.1 L805.4 1564.9 L807.9 1566.7 L810.4 1568.6 L812.9 1570.5 L815.4 1572.5 L817.9 1574.5 L820.4 1576.5 L822.9 1578.6 L825.4 1580.7 L827.9 1582.9 L830.4 1585.1 L832.9 1587.4 L835.4 1589.7 L838 1592 L840.5 1594.4 L843 1596.8 L845.5 1599.3 L848 1601.8 L850.5 1604.3 L853 1606.9 L855.5 1609.5 L858 1612.2 L860.5 1614.9 L863 1617.7 L865.5 1620.5 L868 1623.3 L870.5 1626.1 L873 1629.1 L875.5 1632 L878 1635 L880.5 1638 L883 1641.1 L885.5 1644.2 L888 1647.3 L890.5 1650.5 L893.1 1653.7 L895.6 1656.9 L898.1 1660.2 L900.6 1663.5 L903.1 1666.9 L905.6 1670.2 L908.1 1673.6 L910.6 1677.1 L913.1 1680.6 L915.6 1684 L918.1 1687.6 L920.6 1691.1 L923.1 1694.6 L925.6 1698.2 L928.1 1701.8 L930.6 1705.4 L933.1 1709 L935.6 1712.7 L938.1 1716.3 L940.6 1720 L943.1 1723.6 L945.6 1727.3 L948.2 1731 L950.7 1734.6 L953.2 1738.3 L955.7 1742 L958.2 1745.7 L960.7 1749.3 L963.2 1753 L965.7 1756.7 L968.2 1760.3 L970.7 1763.9 L973.2 1767.6 L975.7 1771.2 L978.2 1774.8 L980.7 1778.3 L983.2 1781.9 L985.7 1785.5 L988.2 1789 L990.7 1792.5 L993.2 1795.9 L995.7 1799.4 L998.2 1802.8 L1000.7 1806.2 L1003.2 1809.5 L1005.8 1812.9 L1008.3 1816.2 L1010.8 1819.4 L1013.3 1822.6 L1015.8 1825.8 L1018.3 1829 L1020.8 1832.1 L1023.3 1835.1 L1025.8 1838.1 L1028.3 1841.1 L1030.8 1844.1 L1033.3 1847 L1035.8 1849.9 L1038.3 1852.7 L1040.8 1855.5 L1043.3 1858.3 L1045.8 1861 L1048.3 1863.7 L1050.8 1866.3 L1053.3 1868.9 L1055.8 1871.5 L1058.4 1874.1 L1060.9 1876.6 L1063.4 1879.1 L1065.9 1881.5 L1068.4 1883.9 L1070.9 1886.3 L1073.4 1888.6 L1075.9 1890.9 L1078.4 1893.2 L1080.9 1895.5 L1083.4 1897.7 L1085.9 1899.8 L1088.4 1902 L1090.9 1904.1 L1093.4 1906.2 L1095.9 1908.2 L1098.4 1910.2 L1100.9 1912.2 L1103.4 1914.2 L1105.9 1916.1 L1108.4 1918 L1110.9 1919.9 L1113.5 1921.7 L1116 1923.5 L1118.5 1925.3 L1121 1927 L1123.5 1928.7 L1126 1930.4 L1128.5 1932.1 L1131 1933.7 L1133.5 1935.3 L1136 1936.8 L1138.5 1938.4 L1141 1939.9 L1143.5 1941.4 L1146 1942.9 L1148.5 1944.3 L1151 1945.7 L1153.5 1947.1 L1156 1948.4 L1158.5 1949.8 L1161 1951.1 L1163.5 1952.4 L1166 1953.6 L1168.6 1954.9 L1171.1 1956.1 L1173.6 1957.3 L1176.1 1958.4 L1178.6 1959.6 L1181.1 1960.7 L1183.6 1961.8 L1186.1 1962.9 L1188.6 1964 L1191.1 1965 L1193.6 1966 L1196.1 1967.1 L1198.6 1968 L1201.1 1969 L1203.6 1970 L1206.1 1970.9 L1208.6 1971.8 L1211.1 1972.7 L1213.6 1973.6 L1216.1 1974.5 L1218.6 1975.4 L1221.1 1976.2 L1223.7 1977.1 L1226.2 1977.9 L1228.7 1978.7 L1231.2 1979.5 L1233.7 1980.3 L1236.2 1981 L1238.7 1981.8 L1241.2 1982.5 L1243.7 1983.3 L1246.2 1984 L1248.7 1984.7 L1251.2 1985.4 L1253.7 1986.1 L1256.2 1986.8 L1258.7 1987.5 L1261.2 1988.2 L1263.7 1988.8 L1266.2 1989.5 L1268.7 1990.2 L1271.2 1990.8 L1273.7 1991.5 L1276.2 1992.1 L1278.8 1992.7 L1281.3 1993.4 L1283.8 1994 L1286.3 1994.6 L1288.8 1995.2 L1291.3 1995.8 L1293.8 1996.4 L1296.3 1997.1 L1298.8 1997.7 L1301.3 1998.3 L1303.8 1998.9 L1306.3 1999.5 L1308.8 2000.1 L1311.3 2000.7 L1313.8 2001.3 L1316.3 2001.9 L1318.8 2002.6 L1321.3 2003.2 L1323.8 2003.8 L1326.3 2004.4 L1328.8 2005 L1331.3 2005.7 L1333.9 2006.3 L1336.4 2007 L1338.9 2007.6 L1341.4 2008.3 L1343.9 2008.9 L1346.4 2009.6 L1348.9 2010.3 L1351.4 2010.9 L1353.9 2011.6 L1356.4 2012.3 L1358.9 2013 L1361.4 2013.7" fill="none" stroke="#00ff00" stroke-width="1.35" stroke-linejoin="round" />
<path d="M292.4 1201.7 L294.9 1213.4 L297.4 1224.6 L299.9 1235.5 L302.4 1245.9 L304.9 1255.9 L307.4 1265.6 L309.9 1274.9 L312.4 1283.9 L314.9 1292.6 L317.4 1301 L319.9 1309.1 L322.4 1316.9 L324.9 1324.5 L327.4 1331.8 L330 1339 L332.5 1345.9 L335 1352.7 L337.5 1359.2 L340 1365.6 L342.5 1371.9 L345 1378 L347.5 1384 L350 1389.8 L352.5 1395.5 L355 1401.1 L357.5 1406.6 L360 1412.1 L362.5 1417.4 L365 1422.6 L367.5 1427.8 L370 1432.9 L372.5 1438 L375 1443 L377.5 1448 L380 1453 L382.5 1457.9 L385 1462.8 L387.5 1467.7 L390 1472.6 L392.5 1477.4 L395 1482.2 L397.5 1486.9 L400.1 1491.6 L402.6 1496.3 L405.1 1500.9 L407.6 1505.4 L410.1 1509.8 L412.6 1514.2 L415.1 1518.5 L417.6 1522.8 L420.1 1526.9 L422.6 1531 L425.1 1535 L427.6 1538.9 L430.1 1542.7 L432.6 1546.3 L435.1 1549.9 L437.6 1553.4 L440.1 1556.8 L442.6 1560 L445.1 1563.2 L447.6 1566.2 L450.1 1569.2 L452.6 1572 L455.1 1574.8 L457.6 1577.5 L460.1 1580 L462.6 1582.5 L465.1 1584.9 L467.6 1587.2 L470.1 1589.4 L472.7 1591.6 L475.2 1593.6 L477.7 1595.6 L480.2 1597.5 L482.7 1599.3 L485.2 1601.1 L487.7 1602.8 L490.2 1604.4 L492.7 1605.9 L495.2 1607.4 L497.7 1608.8 L500.2 1610.1 L502.7 1611.3 L505.2 1612.4 L507.7 1613.5 L510.2 1614.5 L512.7 1615.3 L515.2 1616.1 L517.7 1616.8 L520.2 1617.3 L522.7 1617.8 L525.2 1618.2 L527.7 1618.4 L530.2 1618.6 L532.7 1618.6 L535.2 1618.5 L537.7 1618.3 L540.2 1618 L542.8 1617.5 L545.3 1616.9 L547.8 1616.2 L550.3 1615.4 L552.8 1614.4 L555.3 1613.3 L557.8 1612 L560.3 1610.7 L562.8 1609.2 L565.3 1607.6 L567.8 1605.9 L570.3 1604.1 L572.8 1602.2 L575.3 1600.1 L577.8 1598 L580.3 1595.8 L582.8 1593.5 L585.3 1591.2 L587.8 1588.7 L590.3 1586.2 L592.8 1583.6 L595.3 1580.9 L597.8 1578.1 L600.3 1575.3 L602.8 1572.5 L605.3 1569.6 L607.8 1566.6 L610.3 1563.7 L612.8 1560.7 L615.4 1557.7 L617.9 1554.8 L620.4 1551.9 L622.9 1549.1 L625.4 1546.3 L627.9 1543.5 L630.4 1540.9 L632.9 1538.4 L635.4 1535.9 L637.9 1533.6 L640.4 1531.4 L642.9 1529.4 L645.4 1527.5 L647.9 1525.7 L650.4 1524 L652.9 1522.5 L655.4 1521.1 L657.9 1519.8 L660.4 1518.6 L662.9 1517.6 L665.4 1516.7 L667.9 1515.9 L670.4 1515.2 L672.9 1514.6 L675.4 1514.2 L677.9 1513.8 L680.4 1513.6 L682.9 1513.5 L685.5 1513.5 L688 1513.6 L690.5 1513.9 L693 1514.2 L695.5 1514.7 L698 1515.2 L700.5 1515.9 L703 1516.6 L705.5 1517.5 L708 1518.5 L710.5 1519.5 L713 1520.7 L715.5 1521.9 L718 1523.2 L720.5 1524.6 L723 1526.1 L725.5 1527.7 L728 1529.4 L730.5 1531.2 L733 1533 L735.5 1534.9 L738 1536.9 L740.5 1538.9 L743 1541.1 L745.5 1543.3 L748 1545.5 L750.5 1547.8 L753 1550.2 L755.5 1552.7 L758.1 1555.2 L760.6 1557.8 L763.1 1560.4 L765.6 1563.1 L768.1 1565.8 L770.6 1568.6 L773.1 1571.4 L775.6 1574.3 L778.1 1577.2 L780.6 1580.1 L783.1 1583.1 L785.6 1586.2 L788.1 1589.2 L790.6 1592.4 L793.1 1595.5 L795.6 1598.7 L798.1 1601.9 L800.6 1605.1 L803.1 1608.3 L805.6 1611.6 L808.1 1614.9 L810.6 1618.2 L813.1 1621.6 L815.6 1624.9 L818.1 1628.3 L820.6 1631.7 L823.1 1635.1 L825.6 1638.6 L828.2 1642 L830.7 1645.5 L833.2 1649 L835.7 1652.5 L838.2 1656 L840.7 1659.5 L843.2 1663 L845.7 1666.6 L848.2 1670.1 L850.7 1673.7 L853.2 1677.2 L855.7 1680.8 L858.2 1684.4 L860.7 1688 L863.2 1691.6 L865.7 1695.1 L868.2 1698.7 L870.7 1702.3 L873.2 1705.9 L875.7 1709.5 L878.2 1713.1 L880.7 1716.7 L883.2 1720.2 L885.7 1723.8 L888.2 1727.4 L890.7 1730.9 L893.2 1734.5 L895.7 1738 L898.3 1741.6 L900.8 1745.1 L903.3 1748.6 L905.8 1752.1 L908.3 1755.6 L910.8 1759.1 L913.3 1762.6 L915.8 1766 L918.3 1769.4 L920.8 1772.9 L923.3 1776.3 L925.8 1779.7 L928.3 1783 L930.8 1786.4 L933.3 1789.7 L935.8 1793 L938.3 1796.3 L940.8 1799.6 L943.3 1802.9 L945.8 1806.1 L948.3 1809.3 L950.8 1812.5 L953.3 1815.7 L955.8 1818.8 L958.3 1821.9 L960.8 1825 L963.3 1828.1 L965.8 1831.2 L968.3 1834.2 L970.9 1837.2 L973.4 1840.2 L975.9 1843.1 L978.4 1846 L980.9 1848.9 L983.4 1851.7 L985.9 1854.6 L988.4 1857.4 L990.9 1860.1 L993.4 1862.9 L995.9 1865.6 L998.4 1868.2 L1000.9 1870.9 L1003.4 1873.5 L1005.9 1876 L1008.4 1878.6 L1010.9 1881.1 L1013.4 1883.5 L1015.9 1885.9 L1018.4 1888.3 L1020.9 1890.7 L1023.4 1893 L1025.9 1895.3 L1028.4 1897.5 L1030.9 1899.7 L1033.4 1901.8 L1035.9 1903.9 L1038.4 1906 L1041 1908.1 L1043.5 1910.1 L1046 1912 L1048.5 1913.9 L1051 1915.8 L1053.5 1917.7 L1056 1919.5 L1058.5 1921.3 L1061 1923 L1063.5 1924.8 L1066 1926.4 L1068.5 1928.1 L1071 1929.7 L1073.5 1931.3 L1076 1932.9 L1078.5 1934.4 L1081 1935.9 L1083.5 1937.4 L1086 1938.9 L1088.5 1940.3 L1091 1941.7 L1093.5 1943.1 L1096 1944.4 L1098.5 1945.8 L1101 1947.1 L1103.5 1948.3 L1106 1949.6 L1108.5 1950.9 L1111 1952.1 L1113.6 1953.3 L1116.1 1954.5 L1118.6 1955.6 L1121.1 1956.8 L1123.6 1957.9 L1126.1 1959 L1128.6 1960.1 L1131.1 1961.2 L1133.6 1962.3 L1136.1 1963.3 L1138.6 1964.4 L1141.1 1965.4 L1143.6 1966.4 L1146.1 1967.4 L1148.6 1968.4 L1151.1 1969.4 L1153.6 1970.4 L1156.1 1971.4 L1158.6 1972.3 L1161.1 1973.2 L1163.6 1974.2 L1166.1 1975.1 L1168.6 1976 L1171.1 1976.9 L1173.6 1977.8 L1176.1 1978.6 L1178.6 1979.5 L1181.1 1980.3 L1183.7 1981.2 L1186.2 1982 L1188.7 1982.8 L1191.2 1983.6 L1193.7 1984.4 L1196.2 1985.2 L1198.7 1986 L1201.2 1986.8 L1203.7 1987.5 L1206.2 1988.3 L1208.7 1989 L1211.2 1989.7 L1213.7 1990.5 L1216.2 1991.2 L1218.7 1991.9 L1221.2 1992.6 L1223.7 1993.3 L1226.2 1993.9 L1228.7 1994.6 L1231.2 1995.2 L1233.7 1995.9 L1236.2 1996.5 L1238.7 1997.2 L1241.2 1997.8 L1243.7 1998.4 L1246.2 1999 L1248.7 1999.6 L1251.2 2000.2 L1253.7 2000.8 L1256.3 2001.3 L1258.8 2001.9 L1261.3 2002.4 L1263.8 2003 L1266.3 2003.5 L1268.8 2004.1 L1271.3 2004.6 L1273.8 2005.1 L1276.3 2005.6 L1278.8 2006.1 L1281.3 2006.6 L1283.8 2007.1 L1286.3 2007.6 L1288.8 2008.1 L1291.3 2008.5 L1293.8 2009 L1296.3 2009.4 L1298.8 2009.9 L1301.3 2010.3 L1303.8 2010.8 L1306.3 2011.2 L1308.8 2011.6 L1311.3 2012 L1313.8 2012.4 L1316.3 2012.9 L1318.8 2013.3 L1321.3 2013.6 L1323.8 2014 L1326.4 2014.4 L1328.9 2014.8 L1331.4 2015.2 L1333.9 2015.5 L1336.4 2015.9 L1338.9 2016.2 L1341.4 2016.6 L1343.9 2016.9 L1346.4 2017.3 L1348.9 2017.6 L1351.4 2017.9 L1353.9 2018.3 L1356.4 2018.6 L1358.9 2018.9 L1361.4 2019.2" fill="none" stroke="#0000ff" stroke-width="1.35" stroke-linejoin="round" />
<text x="783.4" y="2189" font-size="49.5" text-anchor="middle" >Wavelength (nm)</text>
<text transform="translate(62.3 1650) rotate(-90) scale(1 1.07)" font-size="48.5" text-anchor="middle">O.D.</text>
<text x="1272.8" y="1666.6" font-size="48.5" text-anchor="start" >b)</text>
<line x1="958.3" y1="1280.5" x2="1052.6" y2="1280.5" stroke="#000" stroke-width="1.5"/>
<text x="1062.4" y="1293.9" font-size="42" text-anchor="start" >PcAu leaves</text>
<line x1="958.3" y1="1332.7" x2="1052.6" y2="1332.7" stroke="#ff0000" stroke-width="1.5"/>
<text x="1062.4" y="1346.1" font-size="42" text-anchor="start" >PcAu leaves PR</text>
<line x1="958.3" y1="1383.2" x2="1052.6" y2="1383.2" stroke="#00ff00" stroke-width="1.5"/>
<text x="1062.4" y="1396.6" font-size="42" text-anchor="start" >PgAu</text>
<line x1="958.3" y1="1434" x2="1052.6" y2="1434" stroke="#0000ff" stroke-width="1.5"/>
<text x="1062.4" y="1447.4" font-size="42" text-anchor="start" >PgAu leaves PR</text>
<line x1="205.1" y1="2380.3" x2="205.1" y2="3225.9" stroke="#000" stroke-width="4.0"/>
<line x1="203.1" y1="3223.5" x2="1361.4" y2="3223.5" stroke="#000" stroke-width="4.8"/>
<line x1="187.5" y1="3223.5" x2="205.1" y2="3223.5" stroke="#000" stroke-width="4.1"/>
<text transform="translate(175.6 3234.6) scale(1 1.03)" font-size="42" text-anchor="end">0.0</text>
<line x1="196" y1="3139.4" x2="205.1" y2="3139.4" stroke="#000" stroke-width="3.9"/>
<line x1="187.5" y1="3055.3" x2="205.1" y2="3055.3" stroke="#000" stroke-width="4.1"/>
<text transform="translate(175.6 3066.4) scale(1 1.03)" font-size="42" text-anchor="end">0.5</text>
<line x1="196" y1="2971.2" x2="205.1" y2="2971.2" stroke="#000" stroke-width="3.9"/>
<line x1="187.5" y1="2887.1" x2="205.1" y2="2887.1" stroke="#000" stroke-width="4.1"/>
<text transform="translate(175.6 2898.2) scale(1 1.03)" font-size="42" text-anchor="end">1.0</text>
<line x1="196" y1="2802.9" x2="205.1" y2="2802.9" stroke="#000" stroke-width="3.9"/>
<line x1="187.5" y1="2718.8" x2="205.1" y2="2718.8" stroke="#000" stroke-width="4.1"/>
<text transform="translate(175.6 2729.9) scale(1 1.03)" font-size="42" text-anchor="end">1.5</text>
<line x1="196" y1="2634.7" x2="205.1" y2="2634.7" stroke="#000" stroke-width="3.9"/>
<line x1="187.5" y1="2550.6" x2="205.1" y2="2550.6" stroke="#000" stroke-width="4.1"/>
<text transform="translate(175.6 2561.7) scale(1 1.03)" font-size="42" text-anchor="end">2.0</text>
<line x1="196" y1="2466.5" x2="205.1" y2="2466.5" stroke="#000" stroke-width="3.9"/>
<line x1="187.5" y1="2382.4" x2="205.1" y2="2382.4" stroke="#000" stroke-width="4.1"/>
<text transform="translate(175.6 2393.5) scale(1 1.03)" font-size="42" text-anchor="end">2.5</text>
<line x1="205.1" y1="3223.5" x2="205.1" y2="3240.8" stroke="#000" stroke-width="4.1"/>
<text x="204.8" y="3284" font-size="42" text-anchor="middle" >350</text>
<line x1="269.6" y1="3223.5" x2="269.6" y2="3231.8" stroke="#000" stroke-width="4.4"/>
<line x1="334.1" y1="3223.5" x2="334.1" y2="3240.8" stroke="#000" stroke-width="4.1"/>
<text x="333.8" y="3284" font-size="42" text-anchor="middle" >400</text>
<line x1="398.6" y1="3223.5" x2="398.6" y2="3231.8" stroke="#000" stroke-width="4.4"/>
<line x1="463.1" y1="3223.5" x2="463.1" y2="3240.8" stroke="#000" stroke-width="4.1"/>
<text x="462.8" y="3284" font-size="42" text-anchor="middle" >450</text>
<line x1="527.6" y1="3223.5" x2="527.6" y2="3231.8" stroke="#000" stroke-width="4.4"/>
<line x1="592.1" y1="3223.5" x2="592.1" y2="3240.8" stroke="#000" stroke-width="4.1"/>
<text x="591.8" y="3284" font-size="42" text-anchor="middle" >500</text>
<line x1="656.6" y1="3223.5" x2="656.6" y2="3231.8" stroke="#000" stroke-width="4.4"/>
<line x1="721.1" y1="3223.5" x2="721.1" y2="3240.8" stroke="#000" stroke-width="4.1"/>
<text x="720.8" y="3284" font-size="42" text-anchor="middle" >550</text>
<line x1="785.6" y1="3223.5" x2="785.6" y2="3231.8" stroke="#000" stroke-width="4.4"/>
<line x1="850.1" y1="3223.5" x2="850.1" y2="3240.8" stroke="#000" stroke-width="4.1"/>
<text x="849.8" y="3284" font-size="42" text-anchor="middle" >600</text>
<line x1="914.6" y1="3223.5" x2="914.6" y2="3231.8" stroke="#000" stroke-width="4.4"/>
<line x1="979.1" y1="3223.5" x2="979.1" y2="3240.8" stroke="#000" stroke-width="4.1"/>
<text x="978.8" y="3284" font-size="42" text-anchor="middle" >650</text>
<line x1="1043.6" y1="3223.5" x2="1043.6" y2="3231.8" stroke="#000" stroke-width="4.4"/>
<line x1="1108.1" y1="3223.5" x2="1108.1" y2="3240.8" stroke="#000" stroke-width="4.1"/>
<text x="1107.8" y="3284" font-size="42" text-anchor="middle" >700</text>
<line x1="1172.6" y1="3223.5" x2="1172.6" y2="3231.8" stroke="#000" stroke-width="4.4"/>
<line x1="1237.1" y1="3223.5" x2="1237.1" y2="3240.8" stroke="#000" stroke-width="4.1"/>
<text x="1236.8" y="3284" font-size="42" text-anchor="middle" >750</text>
<line x1="1301.6" y1="3223.5" x2="1301.6" y2="3231.8" stroke="#000" stroke-width="4.4"/>
<path d="M204.6 2469.6 L207.6 2478.2 L210.6 2486.5 L213.6 2494.5 L216.6 2502.3 L219.6 2509.9 L222.6 2517.2 L225.6 2524.3 L228.6 2531.3 L231.6 2538 L234.6 2544.5 L237.7 2550.9 L240.7 2557.1 L243.7 2563.2 L246.7 2569.1 L249.7 2575 L252.7 2580.7 L255.7 2586.3 L258.7 2591.8 L261.7 2597.2 L264.7 2602.5 L267.7 2607.8 L270.7 2613.1 L273.7 2618.3 L276.7 2623.5 L279.7 2628.7 L282.7 2633.8 L285.7 2638.9 L288.7 2644 L291.7 2649 L294.7 2653.9 L297.7 2658.8 L300.7 2663.6 L303.8 2668.4 L306.8 2673 L309.8 2677.6 L312.8 2682.1 L315.8 2686.5 L318.8 2690.9 L321.8 2695.1 L324.8 2699.2 L327.8 2703.2 L330.8 2707.1 L333.8 2710.8 L336.8 2714.5 L339.8 2718 L342.8 2721.5 L345.8 2724.8 L348.8 2728.1 L351.8 2731.2 L354.8 2734.2 L357.8 2737.2 L360.8 2740 L363.8 2742.8 L366.9 2745.5 L369.9 2748.1 L372.9 2750.6 L375.9 2753 L378.9 2755.4 L381.9 2757.6 L384.9 2759.8 L387.9 2761.9 L390.9 2764 L393.9 2766 L396.9 2767.9 L399.9 2769.7 L402.9 2771.5 L405.9 2773.2 L408.9 2774.9 L411.9 2776.5 L414.9 2778.1 L417.9 2779.6 L420.9 2781.1 L423.9 2782.5 L426.9 2783.9 L430 2785.2 L433 2786.5 L436 2787.7 L439 2788.9 L442 2790.1 L445 2791.2 L448 2792.2 L451 2793.1 L454 2794 L457 2794.8 L460 2795.6 L463 2796.3 L466 2796.8 L469 2797.4 L472 2797.8 L475 2798.1 L478 2798.3 L481 2798.5 L484 2798.5 L487 2798.4 L490 2798.2 L493 2797.9 L496.1 2797.5 L499.1 2797 L502.1 2796.4 L505.1 2795.6 L508.1 2794.7 L511.1 2793.7 L514.1 2792.5 L517.1 2791.2 L520.1 2789.8 L523.1 2788.2 L526.1 2786.4 L529.1 2784.5 L532.1 2782.5 L535.1 2780.3 L538.1 2777.9 L541.1 2775.4 L544.1 2772.7 L547.1 2769.8 L550.1 2766.8 L553.1 2763.5 L556.1 2760 L559.2 2756.3 L562.2 2752.4 L565.2 2748.2 L568.2 2743.8 L571.2 2739.1 L574.2 2734.2 L577.2 2729.1 L580.2 2723.7 L583.2 2718.1 L586.2 2712.4 L589.2 2706.6 L592.2 2700.6 L595.2 2694.6 L598.2 2688.4 L601.2 2682.2 L604.2 2676 L607.2 2669.9 L610.2 2663.7 L613.2 2657.6 L616.2 2651.7 L619.2 2645.8 L622.2 2640.1 L625.3 2634.6 L628.3 2629.3 L631.3 2624.2 L634.3 2619.4 L637.3 2614.8 L640.3 2610.6 L643.3 2606.8 L646.3 2603.3 L649.3 2600.2 L652.3 2597.5 L655.3 2595.3 L658.3 2593.5 L661.3 2592.1 L664.3 2591.1 L667.3 2590.5 L670.3 2590.3 L673.3 2590.6 L676.3 2591.2 L679.3 2592.2 L682.3 2593.6 L685.3 2595.4 L688.4 2597.6 L691.4 2600.2 L694.4 2603.1 L697.4 2606.4 L700.4 2610.1 L703.4 2614.2 L706.4 2618.6 L709.4 2623.4 L712.4 2628.5 L715.4 2633.9 L718.4 2639.6 L721.4 2645.5 L724.4 2651.7 L727.4 2658.2 L730.4 2664.8 L733.4 2671.6 L736.4 2678.5 L739.4 2685.5 L742.4 2692.7 L745.4 2699.9 L748.4 2707.1 L751.5 2714.4 L754.5 2721.6 L757.5 2728.9 L760.5 2736 L763.5 2743.1 L766.5 2750.2 L769.5 2757.2 L772.5 2764 L775.5 2770.8 L778.5 2777.6 L781.5 2784.2 L784.5 2790.8 L787.5 2797.2 L790.5 2803.6 L793.5 2809.9 L796.5 2816.1 L799.5 2822.2 L802.5 2828.2 L805.5 2834.1 L808.5 2839.9 L811.5 2845.6 L814.5 2851.1 L817.6 2856.6 L820.6 2862 L823.6 2867.2 L826.6 2872.3 L829.6 2877.3 L832.6 2882.2 L835.6 2887 L838.6 2891.6 L841.6 2896.1 L844.6 2900.5 L847.6 2904.7 L850.6 2908.8 L853.6 2912.9 L856.6 2916.8 L859.6 2920.6 L862.6 2924.4 L865.6 2928.1 L868.6 2931.7 L871.6 2935.2 L874.6 2938.6 L877.6 2942.1 L880.7 2945.4 L883.7 2948.7 L886.7 2952 L889.7 2955.3 L892.7 2958.5 L895.7 2961.6 L898.7 2964.7 L901.7 2967.8 L904.7 2970.8 L907.7 2973.7 L910.7 2976.5 L913.7 2979.3 L916.7 2982.1 L919.7 2984.7 L922.7 2987.3 L925.7 2989.9 L928.7 2992.4 L931.7 2994.8 L934.7 2997.1 L937.7 2999.4 L940.7 3001.7 L943.8 3003.9 L946.8 3006.1 L949.8 3008.2 L952.8 3010.3 L955.8 3012.4 L958.8 3014.5 L961.8 3016.5 L964.8 3018.5 L967.8 3020.5 L970.8 3022.5 L973.8 3024.5 L976.8 3026.6 L979.8 3028.6 L982.8 3030.6 L985.8 3032.7 L988.8 3034.7 L991.8 3036.8 L994.8 3039 L997.8 3041.1 L1000.8 3043.4 L1003.8 3045.6 L1006.8 3047.9 L1009.9 3050.2 L1012.9 3052.5 L1015.9 3054.8 L1018.9 3057.2 L1021.9 3059.5 L1024.9 3061.9 L1027.9 3064.3 L1030.9 3066.6 L1033.9 3069 L1036.9 3071.3 L1039.9 3073.7 L1042.9 3076 L1045.9 3078.3 L1048.9 3080.5 L1051.9 3082.7 L1054.9 3084.9 L1057.9 3087 L1060.9 3089.1 L1063.9 3091.2 L1066.9 3093.2 L1069.9 3095.2 L1073 3097.2 L1076 3099.1 L1079 3100.9 L1082 3102.8 L1085 3104.6 L1088 3106.4 L1091 3108.1 L1094 3109.8 L1097 3111.5 L1100 3113.1 L1103 3114.8 L1106 3116.3 L1109 3117.9 L1112 3119.4 L1115 3120.9 L1118 3122.4 L1121 3123.8 L1124 3125.3 L1127 3126.7 L1130 3128 L1133 3129.4 L1136 3130.7 L1139.1 3132 L1142.1 3133.3 L1145.1 3134.5 L1148.1 3135.8 L1151.1 3137 L1154.1 3138.2 L1157.1 3139.3 L1160.1 3140.5 L1163.1 3141.6 L1166.1 3142.7 L1169.1 3143.8 L1172.1 3144.9 L1175.1 3146 L1178.1 3147 L1181.1 3148.1 L1184.1 3149.1 L1187.1 3150.1 L1190.1 3151 L1193.1 3152 L1196.1 3153 L1199.1 3153.9 L1202.2 3154.8 L1205.2 3155.7 L1208.2 3156.6 L1211.2 3157.5 L1214.2 3158.3 L1217.2 3159.2 L1220.2 3160 L1223.2 3160.8 L1226.2 3161.6 L1229.2 3162.4 L1232.2 3163.2 L1235.2 3164 L1238.2 3164.7 L1241.2 3165.5 L1244.2 3166.2 L1247.2 3166.9 L1250.2 3167.6 L1253.2 3168.3 L1256.2 3169 L1259.2 3169.7 L1262.2 3170.3 L1265.3 3171 L1268.3 3171.6 L1271.3 3172.3 L1274.3 3172.9 L1277.3 3173.5 L1280.3 3174.1 L1283.3 3174.7 L1286.3 3175.3 L1289.3 3175.9 L1292.3 3176.4 L1295.3 3177 L1298.3 3177.6 L1301.3 3178.1 L1304.3 3178.7 L1307.3 3179.2 L1310.3 3179.7 L1313.3 3180.3 L1316.3 3180.8 L1319.3 3181.3 L1322.3 3181.8 L1325.3 3182.3 L1328.3 3182.8 L1331.4 3183.3 L1334.4 3183.8 L1337.4 3184.3 L1340.4 3184.8 L1343.4 3185.2 L1346.4 3185.7 L1349.4 3186.2 L1352.4 3186.7 L1355.4 3187.1 L1358.4 3187.6 L1361.4 3188" fill="none" stroke="#ff0000" stroke-width="2.8" stroke-linejoin="round" />
<path d="M240.4 2382.5 L243.4 2392.5 L246.4 2402.2 L249.4 2411.7 L252.4 2420.8 L255.4 2429.6 L258.4 2438.1 L261.4 2446.4 L264.4 2454.4 L267.4 2462.2 L270.5 2469.7 L273.5 2477 L276.5 2484.1 L279.5 2491 L282.5 2497.6 L285.5 2504.1 L288.5 2510.4 L291.5 2516.5 L294.5 2522.5 L297.5 2528.3 L300.5 2533.9 L303.5 2539.4 L306.5 2544.8 L309.5 2550.1 L312.5 2555.3 L315.5 2560.4 L318.5 2565.4 L321.5 2570.3 L324.6 2575.1 L327.6 2579.8 L330.6 2584.5 L333.6 2589.2 L336.6 2593.7 L339.6 2598.3 L342.6 2602.8 L345.6 2607.2 L348.6 2611.6 L351.6 2616 L354.6 2620.3 L357.6 2624.5 L360.6 2628.7 L363.6 2632.8 L366.6 2636.9 L369.6 2641 L372.6 2644.9 L375.6 2648.9 L378.6 2652.7 L381.7 2656.5 L384.7 2660.3 L387.7 2664 L390.7 2667.6 L393.7 2671.1 L396.7 2674.6 L399.7 2678.1 L402.7 2681.4 L405.7 2684.7 L408.7 2687.9 L411.7 2691.1 L414.7 2694.2 L417.7 2697.2 L420.7 2700.2 L423.7 2703 L426.7 2705.8 L429.7 2708.6 L432.7 2711.2 L435.7 2713.8 L438.8 2716.3 L441.8 2718.7 L444.8 2721 L447.8 2723.3 L450.8 2725.5 L453.8 2727.6 L456.8 2729.6 L459.8 2731.5 L462.8 2733.3 L465.8 2735.1 L468.8 2736.7 L471.8 2738.3 L474.8 2739.7 L477.8 2741.1 L480.8 2742.4 L483.8 2743.5 L486.8 2744.5 L489.8 2745.4 L492.9 2746.2 L495.9 2746.9 L498.9 2747.4 L501.9 2747.8 L504.9 2748.1 L507.9 2748.2 L510.9 2748.2 L513.9 2748 L516.9 2747.7 L519.9 2747.2 L522.9 2746.5 L525.9 2745.7 L528.9 2744.7 L531.9 2743.6 L534.9 2742.2 L537.9 2740.7 L540.9 2739 L543.9 2737.1 L546.9 2735 L550 2732.7 L553 2730.2 L556 2727.5 L559 2724.6 L562 2721.5 L565 2718.2 L568 2714.6 L571 2710.8 L574 2706.8 L577 2702.7 L580 2698.3 L583 2693.8 L586 2689.2 L589 2684.5 L592 2679.7 L595 2674.8 L598 2670 L601 2665.2 L604 2660.4 L607.1 2655.6 L610.1 2651 L613.1 2646.4 L616.1 2642 L619.1 2637.7 L622.1 2633.7 L625.1 2629.8 L628.1 2626.2 L631.1 2622.8 L634.1 2619.6 L637.1 2616.7 L640.1 2614.2 L643.1 2611.9 L646.1 2609.9 L649.1 2608.3 L652.1 2607 L655.1 2606.1 L658.1 2605.6 L661.2 2605.5 L664.2 2605.7 L667.2 2606.4 L670.2 2607.6 L673.2 2609.1 L676.2 2611.1 L679.2 2613.5 L682.2 2616.3 L685.2 2619.4 L688.2 2623 L691.2 2626.8 L694.2 2631 L697.2 2635.5 L700.2 2640.3 L703.2 2645.3 L706.2 2650.6 L709.2 2656.2 L712.2 2662 L715.2 2668 L718.3 2674.3 L721.3 2680.7 L724.3 2687.2 L727.3 2694 L730.3 2700.8 L733.3 2707.8 L736.3 2714.8 L739.3 2722 L742.3 2729.1 L745.3 2736.3 L748.3 2743.6 L751.3 2750.8 L754.3 2758 L757.3 2765.1 L760.3 2772.2 L763.3 2779.2 L766.3 2786.1 L769.3 2792.8 L772.3 2799.4 L775.4 2805.9 L778.4 2812.2 L781.4 2818.4 L784.4 2824.5 L787.4 2830.4 L790.4 2836.1 L793.4 2841.8 L796.4 2847.3 L799.4 2852.7 L802.4 2858 L805.4 2863.1 L808.4 2868.1 L811.4 2873 L814.4 2877.8 L817.4 2882.5 L820.4 2887.1 L823.4 2891.5 L826.4 2895.9 L829.5 2900.1 L832.5 2904.3 L835.5 2908.4 L838.5 2912.3 L841.5 2916.2 L844.5 2920 L847.5 2923.7 L850.5 2927.3 L853.5 2930.9 L856.5 2934.3 L859.5 2937.7 L862.5 2941.1 L865.5 2944.3 L868.5 2947.5 L871.5 2950.6 L874.5 2953.6 L877.5 2956.6 L880.5 2959.6 L883.5 2962.5 L886.6 2965.3 L889.6 2968.1 L892.6 2970.8 L895.6 2973.5 L898.6 2976.1 L901.6 2978.7 L904.6 2981.3 L907.6 2983.8 L910.6 2986.3 L913.6 2988.8 L916.6 2991.2 L919.6 2993.7 L922.6 2996.1 L925.6 2998.4 L928.6 3000.8 L931.6 3003.2 L934.6 3005.5 L937.6 3007.8 L940.6 3010.2 L943.7 3012.5 L946.7 3014.8 L949.7 3017.1 L952.7 3019.5 L955.7 3021.8 L958.7 3024.1 L961.7 3026.4 L964.7 3028.7 L967.7 3031 L970.7 3033.4 L973.7 3035.7 L976.7 3038 L979.7 3040.3 L982.7 3042.6 L985.7 3044.9 L988.7 3047.1 L991.7 3049.4 L994.7 3051.7 L997.8 3054 L1000.8 3056.2 L1003.8 3058.5 L1006.8 3060.7 L1009.8 3062.9 L1012.8 3065.1 L1015.8 3067.3 L1018.8 3069.5 L1021.8 3071.7 L1024.8 3073.9 L1027.8 3076.1 L1030.8 3078.2 L1033.8 3080.3 L1036.8 3082.4 L1039.8 3084.5 L1042.8 3086.6 L1045.8 3088.7 L1048.8 3090.8 L1051.8 3092.8 L1054.9 3094.8 L1057.9 3096.8 L1060.9 3098.8 L1063.9 3100.8 L1066.9 3102.7 L1069.9 3104.7 L1072.9 3106.6 L1075.9 3108.4 L1078.9 3110.3 L1081.9 3112.2 L1084.9 3114 L1087.9 3115.8 L1090.9 3117.5 L1093.9 3119.3 L1096.9 3121 L1099.9 3122.7 L1102.9 3124.4 L1105.9 3126 L1108.9 3127.7 L1112 3129.3 L1115 3130.8 L1118 3132.4 L1121 3133.9 L1124 3135.4 L1127 3136.8 L1130 3138.2 L1133 3139.6 L1136 3141 L1139 3142.3 L1142 3143.6 L1145 3144.9 L1148 3146.1 L1151 3147.3 L1154 3148.5 L1157 3149.6 L1160 3150.7 L1163 3151.8 L1166.1 3152.8 L1169.1 3153.8 L1172.1 3154.7 L1175.1 3155.7 L1178.1 3156.6 L1181.1 3157.5 L1184.1 3158.3 L1187.1 3159.1 L1190.1 3159.9 L1193.1 3160.7 L1196.1 3161.5 L1199.1 3162.2 L1202.1 3162.9 L1205.1 3163.6 L1208.1 3164.3 L1211.1 3165 L1214.1 3165.7 L1217.1 3166.3 L1220.1 3166.9 L1223.2 3167.6 L1226.2 3168.2 L1229.2 3168.8 L1232.2 3169.4 L1235.2 3170 L1238.2 3170.5 L1241.2 3171.1 L1244.2 3171.7 L1247.2 3172.3 L1250.2 3172.9 L1253.2 3173.5 L1256.2 3174 L1259.2 3174.6 L1262.2 3175.2 L1265.2 3175.8 L1268.2 3176.4 L1271.2 3177 L1274.2 3177.6 L1277.2 3178.3 L1280.3 3178.9 L1283.3 3179.5 L1286.3 3180.1 L1289.3 3180.7 L1292.3 3181.4 L1295.3 3182 L1298.3 3182.6 L1301.3 3183.2 L1304.3 3183.8 L1307.3 3184.3 L1310.3 3184.9 L1313.3 3185.5 L1316.3 3186 L1319.3 3186.6 L1322.3 3187.1 L1325.3 3187.6 L1328.3 3188.1 L1331.3 3188.6 L1334.4 3189 L1337.4 3189.5 L1340.4 3189.9 L1343.4 3190.3 L1346.4 3190.7 L1349.4 3191 L1352.4 3191.4 L1355.4 3191.7 L1358.4 3191.9 L1361.4 3192.2" fill="none" stroke="#00ff00" stroke-width="2.8" stroke-linejoin="round" />
<path d="M347.3 2382.7 L347.8 2388.9 L348.3 2395.1 L348.8 2401.3 L349.2 2407.4 L349.6 2413.6 L350.1 2419.8 L350.5 2426 L350.8 2432.1 L351.2 2438.3 L351.6 2444.5 L351.9 2450.7 L352.3 2456.9 L352.6 2463.1 L352.9 2469.3 L353.3 2475.5 L353.6 2481.7 L353.9 2487.9 L354.1 2494.1 L354.4 2500.3 L354.7 2506.5 L355 2512.7 L355.2 2518.9 L355.5 2525.1 L355.8 2531.3 L356 2537.5 L356.3 2543.7 L356.5 2549.9 L356.8 2556.1 L357.1 2562.3 L357.3 2568.5 L357.6 2574.7 L357.8 2580.9 L358.1 2587.2 L358.4 2593.4 L358.6 2599.6 L358.9 2605.8 L359.2 2612 L359.5 2618.2 L359.8 2624.4 L360.1 2630.6 L360.4 2636.8 L360.7 2643 L361 2649.2 L361.4 2655.4 L361.7 2661.6 L362.1 2667.8 L362.5 2674 L362.9 2680.2 L363.3 2686.4 L363.7 2692.6 L364.1 2698.8 L364.5 2705 L365 2711.2 L365.5 2717.4 L366 2723.6 L366.5 2729.7 L367 2735.9 L367.6 2742.1 L368.1 2748.3 L368.7 2754.5 L369.3 2760.6 L370 2766.8 L370.6 2773 L371.3 2779.1 L372 2785.3 L372.7 2791.5 L373.5 2797.6 L374.3 2803.8 L375.1 2809.9 L375.9 2816.1 L376.8 2822.2 L377.7 2828.4 L378.6 2834.5 L379.5 2840.7 L380.5 2846.8 L381.5 2852.9 L382.6 2859 L383.6 2865.2 L384.8 2871.3 L385.9 2877.4 L387.1 2883.5 L388.3 2889.6 L389.6 2895.7 L391 2901.7 L392.4 2907.8 L393.9 2913.8 L395.6 2919.7 L397.3 2925.6 L399.1 2931.5 L401.1 2937.3 L403.2 2943.1 L405.4 2948.8 L407.8 2954.4 L410.3 2960 L413 2965.5 L415.9 2970.9 L418.9 2976.2 L422.2 2981.5 L425.6 2986.6 L429.2 2991.7 L433 2996.7 L436.9 3001.6 L441 3006.4 L445.3 3011.1 L449.6 3015.8 L454.1 3020.4 L458.6 3024.9 L463.3 3029.3 L468.1 3033.5 L473.1 3037.6 L478.1 3041.4 L483.2 3045.1 L488.5 3048.6 L493.8 3051.8 L499.3 3054.8 L504.8 3057.4 L510.5 3059.8 L516.2 3061.9 L522 3063.7 L527.8 3065.1 L533.7 3066.3 L539.6 3067.1 L545.5 3067.5 L551.4 3067.6 L557.3 3067.4 L563.2 3066.7 L569 3065.7 L574.8 3064.3 L580.5 3062.5 L586.1 3060.3 L591.7 3057.7 L597.1 3054.7 L602.5 3051.5 L607.9 3048 L613.2 3044.4 L618.4 3040.6 L623.7 3036.7 L629 3032.8 L634.2 3029 L639.5 3025.2 L644.9 3021.5 L650.3 3018.1 L655.7 3014.9 L661.2 3011.9 L666.8 3009.3 L672.4 3006.9 L678.1 3004.8 L683.9 3003 L689.7 3001.4 L695.6 3000 L701.5 2998.8 L707.5 2997.9 L713.5 2997.1 L719.5 2996.5 L725.6 2996.1 L731.7 2995.8 L737.9 2995.7 L744 2995.7 L750.2 2995.8 L756.4 2996 L762.6 2996.3 L768.9 2996.6 L775.1 2997.1 L781.3 2997.6 L787.5 2998.1 L793.8 2998.6 L800 2999.2 L806.2 2999.8 L812.4 3000.4 L818.6 3001 L824.8 3001.7 L831 3002.4 L837.2 3003.1 L843.3 3003.8 L849.5 3004.6 L855.7 3005.4 L861.9 3006.1 L868 3007 L874.2 3007.8 L880.3 3008.6 L886.5 3009.5 L892.6 3010.4 L898.8 3011.3 L904.9 3012.2 L911 3013.1 L917.2 3014.1 L923.3 3015.1 L929.4 3016.1 L935.5 3017.1 L941.7 3018.1 L947.8 3019.1 L953.9 3020.1 L960 3021.2 L966.1 3022.3 L972.2 3023.4 L978.3 3024.5 L984.4 3025.6 L990.5 3026.7 L996.6 3027.8 L1002.7 3029 L1008.8 3030.1 L1014.9 3031.3 L1021 3032.5 L1027 3033.6 L1033.1 3034.8 L1039.2 3036 L1045.3 3037.2 L1051.4 3038.5 L1057.4 3039.7 L1063.5 3040.9 L1069.6 3042.1 L1075.7 3043.4 L1081.7 3044.6 L1087.8 3045.9 L1093.9 3047.1 L1099.9 3048.4 L1106 3049.7 L1112.1 3050.9 L1118.1 3052.2 L1124.2 3053.5 L1130.3 3054.8 L1136.3 3056.1 L1142.4 3057.3 L1148.5 3058.6 L1154.5 3059.9 L1160.6 3061.2 L1166.7 3062.5 L1172.7 3063.7 L1178.8 3065 L1184.9 3066.3 L1190.9 3067.6 L1197 3068.9 L1203.1 3070.1 L1209.2 3071.4 L1215.2 3072.7 L1221.3 3073.9 L1227.4 3075.2 L1233.4 3076.5 L1239.5 3077.7 L1245.6 3079 L1251.7 3080.2 L1257.8 3081.4 L1263.8 3082.7 L1269.9 3083.9 L1276 3085.1 L1282.1 3086.3 L1288.2 3087.5 L1294.3 3088.7 L1300.4 3089.8 L1306.5 3091 L1312.6 3092.2 L1318.7 3093.3 L1324.8 3094.5 L1330.9 3095.6 L1337 3096.7 L1343.1 3097.8 L1349.2 3098.9 L1355.4 3100 L1361.5 3101" fill="none" stroke="#0000ff" stroke-width="2.5" stroke-linejoin="round" />
<path d="M206.9 2630.9 L215.2 2630 L216.9 2607.5 L221 2607.5 L222.2 2628.6 L226.2 2628.6 L228 2605.3 L231 2605.3 L235.4 2645.3 L241.1 2576 L245.9 2622.5 L248.5 2620.7 L251.5 2570.7 L253.8 2654.9 L256.1 2597.9 L261.3 2672.5 L264.3 2597.9 L269.6 2596.1 L274.3 2634.7 L277.1 2615.4 L279.7 2631.2 L282.4 2589.1 L284.8 2611.9 L295.9 2608.8 L297.3 2586 L299.9 2605.8 L304.6 2601.8 L308.2 2606.7 L310.4 2586 L313.1 2605.3 L321.7 2598.8 L323.6 2620.7 L329.2 2573.7 L331.8 2572.5 L334.1 2615.4 L336.6 2576 L339.2 2607.5 L342.4 2617.2 L344.6 2615.4 L347.3 2591.8 L349.7 2590.9 L354.6 2647.9 L356.8 2634.7 L359 2634.4 L360.8 2654 L360.4 2655.1 L361.2 2660.2 L361.9 2665.2 L362.7 2670.3 L363.4 2675.4 L364.1 2680.4 L364.7 2685.5 L365.4 2690.6 L366.1 2695.7 L366.7 2700.8 L367.4 2705.9 L368 2710.9 L368.7 2716 L369.3 2721.1 L370 2726.2 L370.7 2731.3 L371.4 2736.4 L372.1 2741.4 L372.8 2746.5 L373.6 2751.6 L374.4 2756.6 L375.2 2761.7 L376 2766.7 L376.9 2771.8 L377.8 2776.8 L378.8 2781.8 L379.8 2786.9 L380.9 2791.9 L382 2796.9 L383.1 2801.9 L384.4 2806.8 L385.6 2811.8 L387 2816.8 L388.4 2821.7 L389.8 2826.6 L391.4 2831.5 L393 2836.4 L391.2 2830 L394.2 2844 L399.5 2856.3 L402.1 2868.6 L406.5 2880.9 L413.5 2891.4 L417 2903.7 L419.6 2911.6 L424 2919.5 L429.3 2923.9 L433.7 2932.6 L437.2 2939.6 L440.7 2940.2 L444.2 2945.8 L447.7 2952.8 L452.1 2957.2 L455.6 2965.1 L460 2970.9 L463.5 2970.4 L467.4 2979.1 L474 2986.1 L481.1 2992.3 L484.6 2992.8 L489.8 3000.2 L494.2 3004 L498.6 3004.6 L503.9 3007.5 L508.2 3012.5 L514.4 3016.8 L520.5 3018.6 L525.8 3021.2 L530.2 3020.4 L534.6 3022.5 L542.5 3021.8 L550.4 3020.4 L553.9 3016.3 L560 3015.6 L561 3015.3 L564.5 3013.3 L568 3011.9 L571.5 3010.2 L575.1 3007.2 L578.6 3002.1 L582.1 2998.3 L585.6 2993.5 L589.1 2989.4 L592.6 2983.4 L596.1 2978.7 L599.6 2973.3 L603.1 2966.5 L606.6 2961 L610.2 2954.5 L613.7 2946.9 L617.2 2941.4 L620.7 2934.2 L624.2 2928 L627.7 2921.3 L631.2 2915.8 L634.7 2909.2 L638.2 2902.8 L641.8 2897.9 L645.3 2893.1 L648.8 2887.1 L652.3 2882.3 L655.8 2878.3 L659.3 2875.3 L662.8 2871.6 L666.3 2867.4 L669.8 2864.7 L673.3 2861.6 L676.9 2857.9 L680.4 2854.9 L683.9 2853.8 L687.4 2851.7 L690.9 2849.6 L694.4 2847.8 L697.9 2846.9 L701.4 2846 L704.9 2844.7 L708.5 2844.1 L712 2844 L715.5 2844.5 L719 2843.9 L722.5 2843.4 L726 2843.7 L729.5 2844.4 L733 2844.5 L736.5 2845.2 L740 2846.7 L743.6 2846.9 L747.1 2848.8 L750.6 2849.9 L754.1 2851.9 L757.6 2853.5 L761.1 2855 L764.6 2856.7 L768.1 2857.9 L771.6 2860.4 L775.1 2861.7 L778.7 2864.3 L782.2 2865.9 L785.7 2868.4 L789.2 2869.9 L792.7 2872.6 L796.2 2876.4 L799.7 2877.4 L803.2 2880.9 L806.7 2883.3 L810.3 2886.1 L813.8 2888.3 L817.3 2891.2 L820.8 2892.9 L824.3 2895.6 L827.8 2898.7 L831.3 2901.4 L834.8 2904.1 L838.3 2907 L841.8 2910.8 L845.4 2912.9 L848.9 2917.4 L852.4 2919.8 L855.9 2922.4 L859.4 2925.7 L862.9 2927.8 L866.4 2932.1 L869.9 2934.9 L873.4 2937.6 L877 2940.1 L880.5 2943.7 L884 2946.5 L887.5 2949.3 L891 2952.7 L894.5 2955.1 L898 2957.4 L901.5 2960.7 L905 2962.8 L908.5 2965.7 L912.1 2969.5 L915.6 2972.5 L919.1 2975.6 L922.6 2978.1 L926.1 2980.1 L929.6 2981.9 L933.1 2985.3 L936.6 2988.8 L940.1 2991 L943.7 2992.9 L947.2 2995.3 L950.7 2997.3 L954.2 2999.6 L957.7 3001.7 L961.2 3005.6 L964.7 3007.3 L968.2 3008.6 L971.7 3011.2 L975.2 3012.6 L978.8 3015 L982.3 3018 L985.5 3019.5 L989.5 3021.8 L992.3 3015.2 L996.5 3016.6 L1000 3027.2 L1004 3030.5 L1006.8 3031 L1010.4 3033 L1013.9 3035.1 L1017.4 3039.1 L1020.9 3040.4 L1024.4 3043 L1027.9 3043.5 L1031.4 3045.4 L1034.9 3047.8 L1038.4 3049.8 L1041.9 3050.1 L1045.5 3051 L1049 3054.1 L1052.5 3054.4 L1056 3056.9 L1059.5 3057.4 L1063 3060.2 L1066.5 3062.2 L1070 3063.7 L1073.5 3064.7 L1077.1 3067.2 L1080.6 3067.7 L1084.1 3069.7 L1087.6 3071.6 L1091.1 3074.1 L1094.6 3074.2 L1098.1 3077.2 L1101.6 3078.6 L1105.1 3080.4 L1108.6 3080.7 L1112.2 3081.8 L1115.7 3083.4 L1119.2 3085.9 L1122.7 3087.6 L1126.2 3088.5 L1129.7 3089.4 L1133.2 3090.4 L1136.7 3092.8 L1140.2 3094.2 L1143.8 3093.9 L1147.3 3095.4 L1150.8 3097.9 L1154.3 3099.2 L1157.8 3099.4 L1161.3 3100.5 L1164.8 3102 L1168.3 3103.4 L1171.8 3103.7 L1175.3 3106.3 L1178.9 3106.9 L1182.4 3108.5 L1185.9 3108.5 L1189.4 3111.1 L1192.9 3111.8 L1196.4 3112.1 L1199.9 3114.4 L1203.4 3115 L1206.9 3116.3 L1210.4 3115.8 L1214 3116.9 L1217.5 3119.3 L1221 3119.4 L1224.5 3120.9 L1228 3121.2 L1231.5 3123.9 L1235 3123.9 L1238.5 3125.6 L1242 3125.1 L1245.6 3126.9 L1249.1 3127.1 L1252.6 3129.7 L1256.1 3129.9 L1259.6 3130.1 L1263.1 3131.1 L1266.6 3133 L1270.1 3133.1 L1273.6 3134.3 L1277.1 3135.8 L1280.7 3136.9 L1284.2 3138.1 L1287.7 3139.2 L1291.2 3139.7 L1294.7 3141.2 L1298.2 3141.3 L1301.7 3142.5 L1305.2 3144.6 L1308.7 3144.3 L1312.3 3145.5 L1315.8 3146.6 L1319.3 3148.1 L1322.8 3148.2 L1326.3 3149.3 L1329.8 3151.2 L1333.3 3151.7 L1336.8 3153.8 L1340.3 3155.1 L1343.8 3155.8 L1347.4 3157.2 L1350.9 3157.7 L1354.4 3158.1 L1357.9 3160 L1361.4 3161.1" fill="none" stroke="#000000" stroke-width="2.3" stroke-linejoin="round" stroke-linejoin="miter"/>
<text x="783.8" y="3350" font-size="49.5" text-anchor="middle" >Wavelength (nm)</text>
<text transform="translate(51.2 2820.8) rotate(-90) scale(1 1.07)" font-size="48.5" text-anchor="middle">O.D.</text>
<text x="1217.5" y="2915" font-size="84" text-anchor="start" >c)</text>
<line x1="989.5" y1="2468.9" x2="1082.5" y2="2468.9" stroke="#ff0000" stroke-width="1.9"/>
<text x="1094.2" y="2482.6" font-size="42" text-anchor="start" >PcAu fruit</text>
<line x1="989.5" y1="2519.3" x2="1082.5" y2="2519.3" stroke="#00ff00" stroke-width="1.9"/>
<text x="1094.2" y="2533" font-size="42" text-anchor="start" >PcAu fruit PR</text>
<line x1="989.5" y1="2570.2" x2="1082.5" y2="2570.2" stroke="#0000ff" stroke-width="2.6"/>
<text x="1094.2" y="2583.9" font-size="42" text-anchor="start" >PgAu fruit</text>
<line x1="989.5" y1="2621.1" x2="1082.5" y2="2621.1" stroke="#000" stroke-width="2.6"/>
<text x="1094.2" y="2634.8" font-size="42" text-anchor="start" >PgAu fruit PR</text>
</svg>
</body>
</html>
